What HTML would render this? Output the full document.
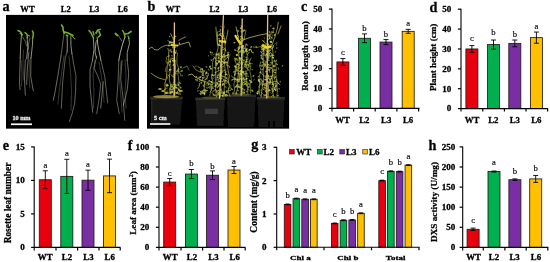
<!DOCTYPE html>
<html><head><meta charset="utf-8"><title>Figure</title>
<style>
html,body{margin:0;padding:0;background:#fff;}
body{width:550px;height:262px;overflow:hidden;font-family:"Liberation Serif",serif;}
svg{display:block;}
svg text{font-family:"Liberation Serif",serif;}
</style></head><body>
<svg width="550" height="262" viewBox="0 0 550 262">
<defs><filter id="bl" x="-5%" y="-5%" width="110%" height="110%"><feGaussianBlur stdDeviation="0.35"/></filter><filter id="soft" x="0" y="0" width="550" height="262" filterUnits="userSpaceOnUse"><feGaussianBlur stdDeviation="0.4"/></filter></defs>
<rect width="550" height="262" fill="#fff"/>
<g filter="url(#soft)">
<rect x="6" y="14.9" width="132.95" height="113.75" fill="#000"/>
<g fill="none" stroke-linecap="round" stroke-linejoin="round" filter="url(#bl)">
<path d="M21.4,35.5 L20.6,46.9 L20.2,58.0" stroke="#dcdcb0" stroke-width="0.8" opacity="0.8280000000000001"/>
<path d="M27.1,37.7 L27.8,46.9 L26.8,58.0" stroke="#dcdcb0" stroke-width="0.8" opacity="0.8280000000000001"/>
<path d="M32.7,38.5 L32.4,45.4 L31.0,58.0" stroke="#dcdcb0" stroke-width="0.8" opacity="0.8280000000000001"/>
<path d="M22.5,37.0 L25.6,41.6 L26.5,46.0" stroke="#dcdcb0" stroke-width="0.6400000000000001" opacity="0.644"/>
<path d="M30.0,38.0 L28.5,44.0 L28.3,50.0" stroke="#dcdcb0" stroke-width="0.6400000000000001" opacity="0.644"/>
<path d="M20.2,58.0 L19.5,81.7 L20.0,89.7" stroke="#c4c0b0" stroke-width="0.7" opacity="0.78"/>
<path d="M26.8,58.0 L25.3,60.3 L24.5,79.0 L25.3,95.0" stroke="#c4c0b0" stroke-width="0.7" opacity="0.78"/>
<path d="M28.8,52.0 L27.2,71.0 L26.7,84.3" stroke="#c4c0b0" stroke-width="0.7" opacity="0.78"/>
<path d="M31.0,58.0 L30.7,76.3 L33.3,91.0" stroke="#c4c0b0" stroke-width="0.7" opacity="0.78"/>
<path d="M64.0,33.3 L62.5,45.0 L61.0,56.0" stroke="#dcdcb0" stroke-width="0.6400000000000001" opacity="0.6900000000000001"/>
<path d="M67.1,34.8 L67.3,45.0 L67.1,52.0" stroke="#dcdcb0" stroke-width="0.8" opacity="0.8280000000000001"/>
<path d="M70.9,35.6 L70.9,45.5 L72.0,54.0" stroke="#dcdcb0" stroke-width="0.8" opacity="0.8280000000000001"/>
<path d="M61.0,56.0 L58.0,75.0 L55.0,92.0 L53.3,100.3" stroke="#c4c0b0" stroke-width="0.7" opacity="0.78"/>
<path d="M67.1,52.0 L65.3,57.7 L62.7,81.7 L61.3,108.3" stroke="#c4c0b0" stroke-width="0.7" opacity="0.7"/>
<path d="M72.0,54.0 L74.0,66.0 L76.0,76.3 L75.5,92.0 L74.7,103.0 L72.0,114.0 L69.3,121.7" stroke="#c4c0b0" stroke-width="0.7" opacity="0.7"/>
<path d="M93.3,38.0 L94.0,49.5 L92.5,60.2" stroke="#dcdcb0" stroke-width="0.8" opacity="0.8280000000000001"/>
<path d="M97.1,37.3 L97.8,44.9 L100.9,60.2" stroke="#dcdcb0" stroke-width="0.8800000000000001" opacity="0.8280000000000001"/>
<path d="M96.0,42.0 L95.0,52.0 L96.5,58.0" stroke="#dcdcb0" stroke-width="0.8" opacity="0.8280000000000001"/>
<path d="M92.5,60.2 L90.0,70.0 L90.0,87.0 L92.7,112.3" stroke="#c4c0b0" stroke-width="0.7" opacity="0.78"/>
<path d="M96.7,56.3 L94.0,68.3 L98.0,76.3 L100.7,84.3 L99.3,97.7 L96.7,113.7" stroke="#c4c0b0" stroke-width="0.7" opacity="0.7"/>
<path d="M100.9,60.2 L104.7,76.3 L106.5,92.0 L107.6,103.0" stroke="#c4c0b0" stroke-width="0.7" opacity="0.7"/>
<path d="M103.3,81.7 L102.0,95.0 L100.7,108.3" stroke="#c4c0b0" stroke-width="0.7" opacity="0.78"/>
<path d="M118.0,35.0 L121.8,41.0" stroke="#dcdcb0" stroke-width="0.6400000000000001" opacity="0.7360000000000001"/>
<path d="M124.9,37.3 L122.6,44.1 L120.3,52.5 L118.8,60.2" stroke="#dcdcb0" stroke-width="0.96" opacity="0.8280000000000001"/>
<path d="M128.7,38.0 L129.5,43.4 L127.2,52.5 L127.2,60.2" stroke="#dcdcb0" stroke-width="0.8" opacity="0.8280000000000001"/>
<path d="M118.8,60.2 L118.0,81.7 L116.7,100.3 L119.3,113.7" stroke="#c4c0b0" stroke-width="0.7" opacity="0.7"/>
<path d="M122.0,60.3 L120.7,79.0 L123.3,100.3 L124.7,120.3" stroke="#c4c0b0" stroke-width="0.7" opacity="0.7"/>
<path d="M127.2,60.2 L128.7,73.7 L127.3,89.7 L123.3,105.7" stroke="#c4c0b0" stroke-width="0.7" opacity="0.78"/>
<path d="M21.0,60.0 L22.0,72.0 L21.5,86.0" stroke="#c4c0b0" stroke-width="0.5" opacity="0.55"/>
<path d="M29.5,60.0 L29.0,75.0 L29.8,88.0" stroke="#c4c0b0" stroke-width="0.5" opacity="0.55"/>
<path d="M23.5,50.0 L23.0,64.0 L23.8,80.0" stroke="#c4c0b0" stroke-width="0.5" opacity="0.5"/>
<path d="M64.0,56.0 L62.0,70.0 L59.5,88.0 L58.0,104.0" stroke="#c4c0b0" stroke-width="0.5" opacity="0.55"/>
<path d="M69.0,56.0 L70.5,72.0 L71.5,90.0 L71.0,110.0" stroke="#c4c0b0" stroke-width="0.5" opacity="0.55"/>
<path d="M95.0,60.0 L93.0,75.0 L94.0,92.0 L93.5,108.0" stroke="#c4c0b0" stroke-width="0.5" opacity="0.55"/>
<path d="M99.0,62.0 L101.0,74.0 L103.0,88.0 L104.0,102.0" stroke="#c4c0b0" stroke-width="0.5" opacity="0.5"/>
<path d="M121.0,62.0 L119.5,80.0 L121.0,98.0 L122.0,112.0" stroke="#c4c0b0" stroke-width="0.5" opacity="0.55"/>
<path d="M125.0,60.0 L126.0,76.0 L125.0,92.0 L126.0,108.0" stroke="#c4c0b0" stroke-width="0.5" opacity="0.55"/>
<path d="M18.0,30.5 L20.0,31.5 L21.5,33.0 L21.8,35.5" stroke="#7cc030" stroke-width="1.6" opacity="0.92"/>
<path d="M20.0,33.5 L22.3,34.5" stroke="#7cc030" stroke-width="1.2000000000000002" opacity="0.92"/>
<path d="M25.0,32.6 L26.8,34.0 L27.4,37.5" stroke="#7cc030" stroke-width="1.4400000000000002" opacity="0.92"/>
<path d="M27.5,35.0 L29.5,36.0" stroke="#7cc030" stroke-width="1.04" opacity="0.92"/>
<path d="M32.4,31.0 L33.4,33.5 L32.8,38.0" stroke="#7cc030" stroke-width="1.52" opacity="0.92"/>
<path d="M61.6,25.0 L63.0,27.5 L63.2,30.5 L64.2,33.2" stroke="#7cc030" stroke-width="1.6" opacity="0.92"/>
<path d="M64.5,32.0 L68.0,33.0 L71.0,34.5 L73.0,35.5" stroke="#7cc030" stroke-width="1.6" opacity="0.92"/>
<path d="M72.5,36.5 L75.0,39.0" stroke="#7cc030" stroke-width="1.04" opacity="0.92"/>
<path d="M66.0,35.0 L68.0,36.0" stroke="#7cc030" stroke-width="1.04" opacity="0.92"/>
<path d="M89.0,30.5 L91.0,33.0 L92.5,36.0 L93.5,38.0" stroke="#7cc030" stroke-width="1.52" opacity="0.92"/>
<path d="M93.0,31.5 L94.0,35.0" stroke="#7cc030" stroke-width="1.2800000000000002" opacity="0.92"/>
<path d="M96.0,33.0 L98.0,30.0 L100.0,29.5" stroke="#7cc030" stroke-width="1.7600000000000002" opacity="0.92"/>
<path d="M99.0,31.5 L100.5,35.0 L98.5,37.0" stroke="#7cc030" stroke-width="1.6" opacity="0.92"/>
<circle cx="97.2" cy="41" r="1" fill="#d09030" stroke="none"/>
<path d="M115.3,33.5 L117.5,35.5" stroke="#7cc030" stroke-width="1.7600000000000002" opacity="0.92"/>
<path d="M122.5,30.5 L124.0,33.0 L125.0,37.0" stroke="#7cc030" stroke-width="1.4400000000000002" opacity="0.92"/>
<path d="M125.0,34.0 L128.0,33.5 L131.0,31.5" stroke="#7cc030" stroke-width="1.7600000000000002" opacity="0.92"/>
<path d="M128.0,36.0 L129.0,38.5" stroke="#7cc030" stroke-width="1.2000000000000002" opacity="0.92"/>
</g>
<text x="27.50" y="12.00" font-size="8.6" font-weight="bold" stroke="#000" stroke-width="0.28" text-anchor="middle" fill="#000" >WT</text>
<text x="65.80" y="12.00" font-size="8.6" font-weight="bold" stroke="#000" stroke-width="0.28" text-anchor="middle" fill="#000" >L2</text>
<text x="94.20" y="12.00" font-size="8.6" font-weight="bold" stroke="#000" stroke-width="0.28" text-anchor="middle" fill="#000" >L3</text>
<text x="122.80" y="12.00" font-size="8.6" font-weight="bold" stroke="#000" stroke-width="0.28" text-anchor="middle" fill="#000" >L6</text>
<rect x="11" y="123.4" width="21" height="1.7" fill="#fff"/>
<text x="21.50" y="120.40" font-size="6.2" font-weight="bold" stroke="#e8e8e8" stroke-width="0.28" text-anchor="middle" fill="#e8e8e8" >10 mm</text>
<rect x="147" y="14.9" width="142.1" height="113.75" fill="#000"/>
<g filter="url(#bl)">
<path d="M150.7,97.6 L182.3,97.6 L180.10000000000002,124.5 L152.89999999999998,124.5 Z" fill="#151515"/>
<rect x="150.2" y="96.8" width="32.60000000000002" height="2.6" fill="#2e2e2c"/>
<path d="M195.7,98.4 L224.8,98.4 L223.3,125.8 L197.2,125.8 Z" fill="#1a1a1a"/>
<rect x="195.2" y="97.60000000000001" width="30.100000000000023" height="2.6" fill="#30302e"/>
<path d="M226.6,95.4 L255.6,95.4 L254.1,127 L228.1,127 Z" fill="#141414"/>
<rect x="226.1" y="94.60000000000001" width="30.0" height="2.6" fill="#2c2c2a"/>
<path d="M257.3,97.8 L284.4,97.8 L282.9,127 L258.8,127 Z" fill="#171717"/>
<rect x="256.8" y="97.0" width="28.099999999999966" height="2.6" fill="#2e2e2c"/>
<rect x="205" y="108.6" width="13" height="5.6" fill="#3a3a3a"/>
<rect x="151.2" y="99" width="1.2" height="24" fill="#2c2c2c"/>
<rect x="268" y="121" width="2" height="6" fill="#050505"/><rect x="273" y="121" width="2" height="6" fill="#050505"/>
<ellipse cx="166" cy="96.6" rx="13" ry="1.6" fill="#b4a63c" opacity="0.8"/>
<ellipse cx="211" cy="97.6" rx="9" ry="1.1" fill="#74702c" opacity="0.6"/>
<ellipse cx="241" cy="94.6" rx="10" ry="1.1" fill="#74702c" opacity="0.6"/>
<ellipse cx="271" cy="97" rx="9" ry="1.1" fill="#74702c" opacity="0.6"/>
</g>
<g fill="none" stroke-linecap="round" stroke-linejoin="round" filter="url(#bl)">
<line x1="174.4" y1="22.8" x2="174.2" y2="96" stroke="#e6c088" stroke-width="1.3"/>
<line x1="223.4" y1="15.6" x2="219.6" y2="98" stroke="#e6c088" stroke-width="1.3"/>
<line x1="242.2" y1="18.8" x2="241.2" y2="95" stroke="#e6c088" stroke-width="1.3"/>
<line x1="267.7" y1="15" x2="266.8" y2="98" stroke="#e6c088" stroke-width="1.3"/>
<path d="M168.9,50.0 L168.6,55.6 L168.9,61.1 L167.2,66.7 L166.8,72.2 L166.4,77.8 L164.9,83.4 L165.1,88.9 L164.8,94.5" stroke="#cfc640" stroke-width="0.75" opacity="0.9"/>
<path d="M173.9,40.0 L174.5,46.8 L174.0,53.6 L174.8,60.4 L175.5,67.2 L175.1,74.1 L175.0,80.9 L174.8,87.7 L174.9,94.5" stroke="#e0dc78" stroke-width="0.75" opacity="0.9"/>
<path d="M177.6,53.0 L176.9,58.2 L176.9,63.4 L178.6,68.6 L177.8,73.8 L178.6,78.9 L179.1,84.1 L179.0,89.3 L180.4,94.5" stroke="#88a040" stroke-width="0.75" opacity="0.9"/>
<path d="M171.2,58.0 L170.1,62.5 L170.1,67.0 L170.1,71.5 L169.3,76.0 L169.4,80.5 L170.6,85.0 L169.9,89.5 L170.1,94.0" stroke="#cfc640" stroke-width="0.75" opacity="0.9"/>
<path d="M149.3,48.5 L152.0,47.0 L154.0,49.5 L158.0,50.0 L161.0,47.5 L165.7,45.3 L170.7,45.3" stroke="#c4c85a" stroke-width="0.8" opacity="0.85"/>
<path d="M177.3,45.3 L182.0,44.0 L188.8,42.0 L190.4,46.9" stroke="#e0dc78" stroke-width="0.8" opacity="0.85"/>
<path d="M170.7,33.7 L172.0,36.5 L174.0,38.7" stroke="#d8d870" stroke-width="0.8" opacity="0.85"/>
<path d="M178.9,40.3 L182.0,38.5 L185.5,37.0" stroke="#d8d870" stroke-width="0.7" opacity="0.85"/>
<path d="M151.0,73.2 L155.0,76.0 L159.2,78.1 L165.0,79.8" stroke="#cfc640" stroke-width="0.8" opacity="0.85"/>
<path d="M183.0,68.0 L187.0,66.0 L189.0,70.0" stroke="#a0b048" stroke-width="0.7" opacity="0.85"/>
<path d="M166.3,66.7 L165.8,68.9 L165.2,71.7" stroke="#a0b048" stroke-width="0.9236548866514023" opacity="0.5501907279694497"/>
<path d="M165.1,88.2 L167.6,88.1 L165.4,89.1 L166.8,88.3" stroke="#88a040" stroke-width="0.5435720991760851" opacity="0.6664049689121718"/>
<path d="M166.6,79.4 L167.7,77.3 L167.5,77.6" stroke="#b8c050" stroke-width="0.8410387209031549" opacity="0.6159349136546158"/>
<path d="M174.2,49.9 L173.8,49.7 L173.2,52.7" stroke="#cfc640" stroke-width="0.5002354542530886" opacity="0.8525168798105804"/>
<path d="M178.3,70.8 L176.8,70.7 L178.7,71.8" stroke="#a0b048" stroke-width="0.5501663760919415" opacity="0.8962555941285604"/>
<path d="M166.3,63.0 L168.1,62.8 L165.8,61.7 L166.6,59.5" stroke="#a0b048" stroke-width="0.6843376024503411" opacity="0.7677522313492212"/>
<path d="M171.7,89.9 L173.7,88.6 L171.9,91.1" stroke="#a0b048" stroke-width="0.9089009747298241" opacity="0.6373244982502374"/>
<path d="M173.2,48.2 L174.2,48.1 L174.1,46.3" stroke="#b8c050" stroke-width="0.5237007852786768" opacity="0.5881665424521548"/>
<path d="M167.9,90.1 L166.6,92.1 L167.1,91.5 L165.4,93.0" stroke="#b8c050" stroke-width="0.5343880620837218" opacity="0.6299387180637939"/>
<path d="M173.5,74.0 L172.4,76.6 L170.9,74.4" stroke="#c4c85a" stroke-width="0.6345969640144205" opacity="0.7059969319937558"/>
<path d="M170.2,42.4 L168.1,40.9 L167.8,40.5" stroke="#a0b048" stroke-width="0.8664525512278884" opacity="0.7326786391776361"/>
<path d="M177.4,70.7 L179.5,72.1 L181.9,70.0 L182.6,70.3" stroke="#c4c85a" stroke-width="0.865248990472641" opacity="0.661616571603805"/>
<path d="M172.4,43.9 L174.5,45.5 L175.5,47.5" stroke="#e0dc78" stroke-width="0.95750128977602" opacity="0.6731419338265389"/>
<path d="M167.0,64.6 L169.3,62.6 L169.3,60.4 L170.2,60.2" stroke="#c4c85a" stroke-width="0.5062235877248157" opacity="0.5752871824657225"/>
<path d="M178.5,73.2 L179.7,73.1 L180.9,73.9 L180.6,76.0" stroke="#c4c85a" stroke-width="0.5418911111306293" opacity="0.8125735620415655"/>
<path d="M167.7,56.1 L166.3,57.6 L166.3,58.6" stroke="#c4c85a" stroke-width="0.9602321367200364" opacity="0.6395405770372335"/>
<path d="M168.1,59.1 L168.2,60.9 L167.4,63.5" stroke="#88a040" stroke-width="0.7491555209894736" opacity="0.634519296992095"/>
<path d="M168.0,74.6 L169.6,76.4 L168.0,75.3 L166.5,77.9" stroke="#d8d870" stroke-width="0.6049462710923564" opacity="0.5970934575331469"/>
<path d="M177.1,83.5 L179.5,82.8 L177.7,82.9" stroke="#88a040" stroke-width="0.6375814114724542" opacity="0.6249281320036475"/>
<path d="M172.2,59.9 L173.3,62.1 L174.0,61.5 L175.7,60.8" stroke="#d8d870" stroke-width="0.8037772738989011" opacity="0.787389149874604"/>
<path d="M169.6,69.7 L170.3,69.6 L168.7,71.4" stroke="#cfc640" stroke-width="0.6332062491678037" opacity="0.8227389983781135"/>
<path d="M173.1,42.4 L171.0,43.0 L171.8,42.7 L169.6,41.6" stroke="#e0dc78" stroke-width="0.9119189026770826" opacity="0.6396147773604105"/>
<ellipse cx="169.5" cy="36.6" rx="0.7" ry="0.6" fill="#d8d870" stroke="none" opacity="0.74" transform="rotate(6 169.5 36.6)"/>
<ellipse cx="174.0" cy="65.0" rx="1.4" ry="0.6" fill="#cfc640" stroke="none" opacity="0.83" transform="rotate(55 174.0 65.0)"/>
<ellipse cx="168.0" cy="49.0" rx="0.9" ry="0.7" fill="#a0b048" stroke="none" opacity="0.77" transform="rotate(56 168.0 49.0)"/>
<ellipse cx="175.5" cy="36.4" rx="1.0" ry="0.8" fill="#b8c050" stroke="none" opacity="0.83" transform="rotate(60 175.5 36.4)"/>
<ellipse cx="168.9" cy="55.9" rx="0.7" ry="0.9" fill="#cfc640" stroke="none" opacity="0.77" transform="rotate(31 168.9 55.9)"/>
<ellipse cx="179.4" cy="43.2" rx="0.8" ry="0.7" fill="#c4c85a" stroke="none" opacity="0.89" transform="rotate(8 179.4 43.2)"/>
<ellipse cx="176.5" cy="92.7" rx="1.2" ry="0.5" fill="#b8c050" stroke="none" opacity="0.58" transform="rotate(-4 176.5 92.7)"/>
<ellipse cx="172.0" cy="55.8" rx="0.9" ry="0.6" fill="#c4c85a" stroke="none" opacity="0.63" transform="rotate(51 172.0 55.8)"/>
<ellipse cx="173.5" cy="39.7" rx="0.9" ry="0.9" fill="#a0b048" stroke="none" opacity="0.71" transform="rotate(6 173.5 39.7)"/>
<ellipse cx="170.3" cy="88.2" rx="1.0" ry="0.8" fill="#88a040" stroke="none" opacity="0.88" transform="rotate(3 170.3 88.2)"/>
<ellipse cx="170.6" cy="69.6" rx="1.0" ry="0.8" fill="#cfc640" stroke="none" opacity="0.81" transform="rotate(21 170.6 69.6)"/>
<ellipse cx="168.9" cy="45.5" rx="1.0" ry="1.0" fill="#d8d870" stroke="none" opacity="0.66" transform="rotate(-12 168.9 45.5)"/>
<ellipse cx="177.5" cy="91.4" rx="0.8" ry="0.6" fill="#b8c050" stroke="none" opacity="0.73" transform="rotate(13 177.5 91.4)"/>
<ellipse cx="169.4" cy="64.9" rx="0.9" ry="0.6" fill="#c4c85a" stroke="none" opacity="0.76" transform="rotate(-57 169.4 64.9)"/>
<ellipse cx="180.9" cy="67.2" rx="1.0" ry="1.0" fill="#c4c85a" stroke="none" opacity="0.72" transform="rotate(28 180.9 67.2)"/>
<ellipse cx="174.6" cy="45.7" rx="1.3" ry="0.7" fill="#cfc640" stroke="none" opacity="0.87" transform="rotate(-26 174.6 45.7)"/>
<ellipse cx="170.4" cy="50.3" rx="1.3" ry="1.0" fill="#88a040" stroke="none" opacity="0.73" transform="rotate(-47 170.4 50.3)"/>
<ellipse cx="173.1" cy="47.1" rx="1.1" ry="1.0" fill="#a0b048" stroke="none" opacity="0.80" transform="rotate(-58 173.1 47.1)"/>
<ellipse cx="173.2" cy="38.1" rx="0.8" ry="0.9" fill="#a0b048" stroke="none" opacity="0.77" transform="rotate(-47 173.2 38.1)"/>
<ellipse cx="173.5" cy="65.0" rx="1.1" ry="0.9" fill="#b8c050" stroke="none" opacity="0.64" transform="rotate(-35 173.5 65.0)"/>
<ellipse cx="173.6" cy="76.7" rx="1.1" ry="0.9" fill="#b8c050" stroke="none" opacity="0.61" transform="rotate(-34 173.6 76.7)"/>
<ellipse cx="172.3" cy="86.1" rx="1.0" ry="0.6" fill="#a0b048" stroke="none" opacity="0.85" transform="rotate(18 172.3 86.1)"/>
<ellipse cx="178.5" cy="70.0" rx="1.1" ry="0.7" fill="#a0b048" stroke="none" opacity="0.66" transform="rotate(-20 178.5 70.0)"/>
<ellipse cx="180.8" cy="87.7" rx="0.8" ry="0.9" fill="#a0b048" stroke="none" opacity="0.86" transform="rotate(-43 180.8 87.7)"/>
<ellipse cx="174.3" cy="87.6" rx="0.9" ry="0.7" fill="#88a040" stroke="none" opacity="0.74" transform="rotate(30 174.3 87.6)"/>
<ellipse cx="173.8" cy="43.3" rx="0.9" ry="0.8" fill="#c4c85a" stroke="none" opacity="0.58" transform="rotate(12 173.8 43.3)"/>
<ellipse cx="182.1" cy="75.6" rx="0.7" ry="0.8" fill="#cfc640" stroke="none" opacity="0.67" transform="rotate(27 182.1 75.6)"/>
<ellipse cx="166.8" cy="84.3" rx="1.2" ry="0.7" fill="#c4c85a" stroke="none" opacity="0.56" transform="rotate(10 166.8 84.3)"/>
<ellipse cx="176.7" cy="71.6" rx="0.8" ry="0.6" fill="#a0b048" stroke="none" opacity="0.84" transform="rotate(-24 176.7 71.6)"/>
<ellipse cx="169.9" cy="89.8" rx="0.7" ry="0.5" fill="#e0dc78" stroke="none" opacity="0.71" transform="rotate(37 169.9 89.8)"/>
<ellipse cx="171.0" cy="41.6" rx="0.9" ry="0.6" fill="#d8d870" stroke="none" opacity="0.55" transform="rotate(29 171.0 41.6)"/>
<ellipse cx="174.5" cy="38.4" rx="0.8" ry="0.7" fill="#d8d870" stroke="none" opacity="0.81" transform="rotate(-9 174.5 38.4)"/>
<ellipse cx="171.3" cy="89.5" rx="1.2" ry="0.7" fill="#c4c85a" stroke="none" opacity="0.83" transform="rotate(30 171.3 89.5)"/>
<ellipse cx="171.7" cy="86.8" rx="1.3" ry="1.0" fill="#b8c050" stroke="none" opacity="0.76" transform="rotate(4 171.7 86.8)"/>
<ellipse cx="169.5" cy="69.9" rx="0.8" ry="0.6" fill="#e0dc78" stroke="none" opacity="0.82" transform="rotate(44 169.5 69.9)"/>
<ellipse cx="179.8" cy="90.2" rx="0.7" ry="0.7" fill="#b8c050" stroke="none" opacity="0.79" transform="rotate(38 179.8 90.2)"/>
<ellipse cx="174.0" cy="61.0" rx="0.7" ry="0.9" fill="#d8d870" stroke="none" opacity="0.71" transform="rotate(-59 174.0 61.0)"/>
<ellipse cx="175.9" cy="87.5" rx="1.4" ry="1.0" fill="#c4c85a" stroke="none" opacity="0.63" transform="rotate(60 175.9 87.5)"/>
<ellipse cx="172.0" cy="91.8" rx="0.9" ry="0.6" fill="#c4c85a" stroke="none" opacity="0.69" transform="rotate(3 172.0 91.8)"/>
<ellipse cx="175.6" cy="73.3" rx="1.2" ry="0.9" fill="#b8c050" stroke="none" opacity="0.56" transform="rotate(18 175.6 73.3)"/>
<ellipse cx="173.2" cy="42.3" rx="1.0" ry="0.9" fill="#e0dc78" stroke="none" opacity="0.68" transform="rotate(-48 173.2 42.3)"/>
<ellipse cx="176.1" cy="51.0" rx="0.8" ry="0.7" fill="#b8c050" stroke="none" opacity="0.73" transform="rotate(6 176.1 51.0)"/>
<ellipse cx="178.4" cy="68.9" rx="1.2" ry="0.5" fill="#b8c050" stroke="none" opacity="0.78" transform="rotate(-55 178.4 68.9)"/>
<ellipse cx="172.9" cy="58.4" rx="1.4" ry="0.7" fill="#a0b048" stroke="none" opacity="0.85" transform="rotate(9 172.9 58.4)"/>
<ellipse cx="181.7" cy="71.4" rx="0.9" ry="0.8" fill="#b8c050" stroke="none" opacity="0.66" transform="rotate(7 181.7 71.4)"/>
<ellipse cx="175.6" cy="52.6" rx="1.1" ry="0.8" fill="#d8d870" stroke="none" opacity="0.78" transform="rotate(35 175.6 52.6)"/>
<ellipse cx="175.3" cy="53.2" rx="0.6" ry="0.6" fill="#cfc640" stroke="none" opacity="0.79" transform="rotate(-54 175.3 53.2)"/>
<ellipse cx="173.3" cy="88.1" rx="1.2" ry="0.5" fill="#e0dc78" stroke="none" opacity="0.88" transform="rotate(-51 173.3 88.1)"/>
<ellipse cx="174.2" cy="82.3" rx="0.8" ry="0.9" fill="#c4c85a" stroke="none" opacity="0.73" transform="rotate(59 174.2 82.3)"/>
<ellipse cx="180.0" cy="83.0" rx="1.3" ry="0.6" fill="#cfc640" stroke="none" opacity="0.64" transform="rotate(30 180.0 83.0)"/>
<ellipse cx="171.0" cy="42.7" rx="0.8" ry="0.5" fill="#b8c050" stroke="none" opacity="0.60" transform="rotate(-14 171.0 42.7)"/>
<ellipse cx="170.3" cy="61.7" rx="1.1" ry="0.7" fill="#d8d870" stroke="none" opacity="0.77" transform="rotate(27 170.3 61.7)"/>
<ellipse cx="173.7" cy="60.3" rx="1.4" ry="1.0" fill="#e0dc78" stroke="none" opacity="0.60" transform="rotate(1 173.7 60.3)"/>
<ellipse cx="170.0" cy="42.6" rx="1.3" ry="0.9" fill="#b8c050" stroke="none" opacity="0.85" transform="rotate(-25 170.0 42.6)"/>
<ellipse cx="171.5" cy="51.7" rx="1.1" ry="0.8" fill="#cfc640" stroke="none" opacity="0.63" transform="rotate(-29 171.5 51.7)"/>
<ellipse cx="164.8" cy="89.5" rx="1.1" ry="0.6" fill="#e0dc78" stroke="none" opacity="0.56" transform="rotate(-53 164.8 89.5)"/>
<ellipse cx="171.9" cy="84.1" rx="0.6" ry="0.6" fill="#d8d870" stroke="none" opacity="0.58" transform="rotate(-49 171.9 84.1)"/>
<ellipse cx="173.5" cy="94.0" rx="0.7" ry="0.6" fill="#d8d870" stroke="none" opacity="0.72" transform="rotate(-15 173.5 94.0)"/>
<ellipse cx="166.7" cy="86.3" rx="1.3" ry="0.5" fill="#c4c85a" stroke="none" opacity="0.71" transform="rotate(45 166.7 86.3)"/>
<ellipse cx="180.5" cy="90.9" rx="1.2" ry="0.6" fill="#88a040" stroke="none" opacity="0.81" transform="rotate(-11 180.5 90.9)"/>
<ellipse cx="165.7" cy="92.9" rx="1.4" ry="0.7" fill="#b8c050" stroke="none" opacity="0.82" transform="rotate(45 165.7 92.9)"/>
<ellipse cx="179.0" cy="94.1" rx="0.9" ry="0.7" fill="#c4c85a" stroke="none" opacity="0.71" transform="rotate(-19 179.0 94.1)"/>
<ellipse cx="178.2" cy="84.9" rx="1.0" ry="0.8" fill="#d8d870" stroke="none" opacity="0.84" transform="rotate(-59 178.2 84.9)"/>
<ellipse cx="175.6" cy="84.8" rx="0.8" ry="0.8" fill="#c4c85a" stroke="none" opacity="0.79" transform="rotate(3 175.6 84.8)"/>
<ellipse cx="170.2" cy="92.0" rx="0.7" ry="0.7" fill="#e0dc78" stroke="none" opacity="0.66" transform="rotate(56 170.2 92.0)"/>
<ellipse cx="167.7" cy="85.3" rx="1.2" ry="0.8" fill="#e0dc78" stroke="none" opacity="0.87" transform="rotate(-4 167.7 85.3)"/>
<ellipse cx="178.7" cy="89.8" rx="0.8" ry="1.0" fill="#e0dc78" stroke="none" opacity="0.86" transform="rotate(-29 178.7 89.8)"/>
<ellipse cx="171.7" cy="84.9" rx="1.3" ry="0.5" fill="#e0dc78" stroke="none" opacity="0.69" transform="rotate(-11 171.7 84.9)"/>
<ellipse cx="171.6" cy="92.8" rx="0.9" ry="0.6" fill="#b8c050" stroke="none" opacity="0.75" transform="rotate(-38 171.6 92.8)"/>
<ellipse cx="166.6" cy="85.0" rx="1.0" ry="0.9" fill="#cfc640" stroke="none" opacity="0.56" transform="rotate(6 166.6 85.0)"/>
<ellipse cx="174.5" cy="84.6" rx="0.6" ry="0.9" fill="#88a040" stroke="none" opacity="0.57" transform="rotate(9 174.5 84.6)"/>
<ellipse cx="176.1" cy="87.4" rx="1.0" ry="0.7" fill="#d8d870" stroke="none" opacity="0.81" transform="rotate(55 176.1 87.4)"/>
<ellipse cx="180.4" cy="87.5" rx="0.7" ry="0.9" fill="#88a040" stroke="none" opacity="0.64" transform="rotate(-32 180.4 87.5)"/>
<ellipse cx="173.4" cy="89.4" rx="1.3" ry="0.7" fill="#88a040" stroke="none" opacity="0.69" transform="rotate(-17 173.4 89.4)"/>
<ellipse cx="170.3" cy="92.9" rx="1.0" ry="0.9" fill="#c4c85a" stroke="none" opacity="0.80" transform="rotate(57 170.3 92.9)"/>
<ellipse cx="174.6" cy="84.5" rx="1.2" ry="1.0" fill="#d8d870" stroke="none" opacity="0.85" transform="rotate(43 174.6 84.5)"/>
<ellipse cx="177.6" cy="88.2" rx="1.0" ry="0.5" fill="#d8d870" stroke="none" opacity="0.80" transform="rotate(42 177.6 88.2)"/>
<ellipse cx="175.3" cy="85.2" rx="1.3" ry="1.0" fill="#a0b048" stroke="none" opacity="0.81" transform="rotate(21 175.3 85.2)"/>
<ellipse cx="174.0" cy="88.1" rx="0.9" ry="0.6" fill="#c4c85a" stroke="none" opacity="0.72" transform="rotate(33 174.0 88.1)"/>
<ellipse cx="175.3" cy="85.3" rx="1.1" ry="0.9" fill="#a0b048" stroke="none" opacity="0.87" transform="rotate(36 175.3 85.3)"/>
<path d="M171.5,45 L177.5,45.6" stroke="#ecd020" stroke-width="1.8"/>
<ellipse cx="163" cy="91" rx="1.8" ry="1" fill="#d8c030" stroke="none" opacity="0.85"/>
<ellipse cx="167" cy="93" rx="1.8" ry="1" fill="#d8c030" stroke="none" opacity="0.85"/>
<ellipse cx="172" cy="92" rx="1.8" ry="1" fill="#d8c030" stroke="none" opacity="0.85"/>
<ellipse cx="177" cy="93" rx="1.8" ry="1" fill="#d8c030" stroke="none" opacity="0.85"/>
<ellipse cx="160" cy="89" rx="1.8" ry="1" fill="#d8c030" stroke="none" opacity="0.85"/>
<ellipse cx="181" cy="91" rx="1.8" ry="1" fill="#d8c030" stroke="none" opacity="0.85"/>
<path d="M217.4,32.0 L217.5,40.1 L218.1,48.2 L215.8,56.4 L215.8,64.5 L215.8,72.6 L215.7,80.8 L215.6,88.9 L216.5,97.0" stroke="#b8c050" stroke-width="0.75" opacity="0.9"/>
<path d="M221.0,45.0 L220.7,51.5 L221.7,58.0 L220.4,64.5 L221.5,71.0 L221.4,77.5 L220.6,84.0 L221.2,90.5 L220.1,97.0" stroke="#cfc640" stroke-width="0.75" opacity="0.9"/>
<path d="M223.4,34.0 L225.1,41.9 L225.2,49.8 L224.0,57.6 L224.6,65.5 L225.7,73.4 L224.7,81.2 L224.2,89.1 L223.9,97.0" stroke="#a0b048" stroke-width="0.75" opacity="0.9"/>
<path d="M213.7,58.0 L212.5,62.8 L212.6,67.5 L212.3,72.2 L211.5,77.0 L212.9,81.8 L211.9,86.5 L210.6,91.2 L209.8,96.0" stroke="#88a040" stroke-width="0.75" opacity="0.9"/>
<path d="M229.0,56.0 L228.0,61.0 L227.6,66.0 L228.2,71.0 L229.4,76.0 L228.4,81.0 L229.4,86.0 L228.0,91.0 L230.0,96.0" stroke="#cfc640" stroke-width="0.75" opacity="0.9"/>
<path d="M215.9,27.1 L216.5,35.0 L217.5,45.1" stroke="#b8c050" stroke-width="0.8" opacity="0.85"/>
<path d="M224.0,26.0 L223.5,30.0 L224.0,33.7" stroke="#a0b048" stroke-width="0.7" opacity="0.85"/>
<path d="M228.0,30.0 L227.0,36.0 L225.0,44.0" stroke="#e0dc78" stroke-width="0.7" opacity="0.85"/>
<path d="M188.5,75.0 L192.0,74.0 L195.0,77.0 L199.0,79.0 L203.0,81.0 L208.0,82.5" stroke="#e0dc78" stroke-width="0.8" opacity="0.85"/>
<path d="M193.0,66.0 L196.0,70.0 L200.0,72.0 L205.0,71.0" stroke="#b8c050" stroke-width="0.7" opacity="0.85"/>
<path d="M220.2,33.9 L220.6,32.6 L219.1,35.2" stroke="#d8d870" stroke-width="0.5745125816095188" opacity="0.5949452696654892"/>
<path d="M221.5,33.9 L223.6,35.3 L221.4,37.0" stroke="#c4c85a" stroke-width="0.7717044757952747" opacity="0.7270890631247904"/>
<path d="M219.2,45.4 L220.7,45.5 L218.3,45.4" stroke="#d8d870" stroke-width="0.7470915621427876" opacity="0.8813079881757735"/>
<path d="M219.3,35.0 L221.9,36.2 L219.6,34.4 L217.8,35.7" stroke="#cfc640" stroke-width="0.8379293250358061" opacity="0.8113227288307094"/>
<path d="M221.4,46.3 L223.3,47.8 L223.2,47.1" stroke="#cfc640" stroke-width="0.5566623600501113" opacity="0.8201372560386726"/>
<path d="M223.0,49.8 L225.1,48.4 L225.7,51.1" stroke="#cfc640" stroke-width="0.8748651381515187" opacity="0.8839312007135628"/>
<path d="M223.1,68.0 L221.4,67.8 L219.4,67.2 L218.2,67.5" stroke="#88a040" stroke-width="0.8201631431715878" opacity="0.7063997793153656"/>
<path d="M214.1,54.2 L212.1,55.3 L210.5,54.1" stroke="#e0dc78" stroke-width="0.5182382123057534" opacity="0.7121077176739189"/>
<path d="M215.5,54.1 L218.0,54.2 L219.4,53.8" stroke="#a0b048" stroke-width="0.9116286465041812" opacity="0.8744138771969668"/>
<path d="M225.3,79.8 L225.2,82.4 L225.9,83.9 L226.4,83.4" stroke="#b8c050" stroke-width="0.8943776964756511" opacity="0.6357679678580187"/>
<path d="M215.4,74.4 L214.6,75.6 L212.5,75.3" stroke="#cfc640" stroke-width="0.7546811041711089" opacity="0.8259940017217178"/>
<path d="M223.5,54.7 L224.9,57.2 L225.2,56.9 L225.2,55.4" stroke="#b8c050" stroke-width="0.8567105911603918" opacity="0.8953723957890847"/>
<path d="M224.5,95.9 L224.9,93.9 L225.7,95.7" stroke="#88a040" stroke-width="0.5681377360396063" opacity="0.7172596890611226"/>
<path d="M216.6,82.1 L215.3,84.5 L215.1,86.1 L213.7,86.8" stroke="#d8d870" stroke-width="0.7730747482207714" opacity="0.5722554757902171"/>
<path d="M224.2,57.8 L224.7,56.2 L226.4,55.5 L228.5,54.5" stroke="#a0b048" stroke-width="0.7867921976860596" opacity="0.84076415231866"/>
<path d="M226.1,77.5 L223.7,76.2 L226.2,78.9 L227.0,78.3" stroke="#88a040" stroke-width="0.835617292103771" opacity="0.8081876774672838"/>
<path d="M222.8,78.3 L221.0,78.2 L218.6,78.8" stroke="#d8d870" stroke-width="0.559138143694093" opacity="0.6920069013594905"/>
<path d="M215.5,73.9 L213.2,75.8 L214.3,77.7 L213.8,78.1" stroke="#b8c050" stroke-width="0.5512598472457744" opacity="0.6709058474302199"/>
<path d="M221.4,92.0 L222.7,92.3 L225.3,94.5 L227.1,94.4" stroke="#b8c050" stroke-width="0.7169782672724465" opacity="0.7480883359172887"/>
<path d="M220.4,65.2 L222.5,64.7 L220.2,66.2 L222.2,67.8" stroke="#d8d870" stroke-width="0.7987608102035154" opacity="0.8131599204715235"/>
<path d="M228.0,90.6 L226.1,90.7 L226.1,90.6" stroke="#b8c050" stroke-width="0.5259827057857578" opacity="0.7932166269934221"/>
<path d="M221.0,91.9 L223.3,94.2 L225.9,95.8 L227.8,95.6" stroke="#a0b048" stroke-width="0.7730782792769471" opacity="0.7473866282540573"/>
<path d="M224.3,60.2 L226.4,58.5 L227.9,57.0" stroke="#c4c85a" stroke-width="0.7687949857707588" opacity="0.8828412201897433"/>
<path d="M224.1,63.6 L223.1,61.7 L225.2,63.8" stroke="#b8c050" stroke-width="0.698627368142005" opacity="0.6747742037646243"/>
<path d="M216.6,60.6 L218.7,60.0 L218.7,62.7 L221.2,62.9" stroke="#e0dc78" stroke-width="0.6032540768485268" opacity="0.6533719234217129"/>
<path d="M213.5,91.3 L215.6,89.1 L216.3,90.6 L216.6,91.1" stroke="#c4c85a" stroke-width="0.6181085489373951" opacity="0.8823110830639251"/>
<path d="M216.1,79.9 L218.5,79.1 L218.1,81.5 L217.3,84.3" stroke="#a0b048" stroke-width="0.8894627259863744" opacity="0.6953097710583087"/>
<path d="M216.7,60.3 L215.5,61.8 L215.5,61.2" stroke="#b8c050" stroke-width="0.6366493119765664" opacity="0.8313001441337398"/>
<path d="M221.9,90.7 L224.4,93.1 L222.7,92.1" stroke="#88a040" stroke-width="0.5662720301744721" opacity="0.7837302590272892"/>
<path d="M218.7,95.2 L218.9,93.3 L219.4,92.5" stroke="#c4c85a" stroke-width="0.6254516296962189" opacity="0.8311273939832818"/>
<path d="M228.3,57.6 L227.0,56.8 L227.2,55.6" stroke="#c4c85a" stroke-width="0.9485157137765465" opacity="0.8957079027910715"/>
<path d="M228.2,78.6 L225.6,81.0 L223.3,79.2 L224.8,81.7" stroke="#c4c85a" stroke-width="0.6604011902893447" opacity="0.719222760752204"/>
<path d="M220.1,73.8 L220.6,75.6 L218.6,75.6" stroke="#d8d870" stroke-width="0.8342195244149613" opacity="0.7417378866714255"/>
<path d="M226.0,86.2 L224.8,86.8 L226.6,87.7" stroke="#e0dc78" stroke-width="0.6306684093003472" opacity="0.620877583391144"/>
<path d="M219.2,52.4 L218.2,53.4 L218.8,55.4" stroke="#cfc640" stroke-width="0.7518568614187582" opacity="0.8030984561296621"/>
<path d="M211.1,86.7 L211.5,87.4 L213.0,86.4" stroke="#c4c85a" stroke-width="0.5731156582161003" opacity="0.6588533274745638"/>
<path d="M226.4,82.0 L227.8,82.4 L228.6,82.8 L228.0,81.9" stroke="#b8c050" stroke-width="0.748435406724613" opacity="0.7806525114240042"/>
<path d="M210.9,86.2 L210.7,87.6 L211.8,90.4 L209.9,92.1" stroke="#e0dc78" stroke-width="0.800374563731947" opacity="0.5970892660364662"/>
<path d="M224.6,70.9 L222.0,70.9 L222.1,69.2" stroke="#c4c85a" stroke-width="0.7780453871863616" opacity="0.715162495512915"/>
<path d="M223.9,94.7 L222.9,93.1 L224.7,93.1" stroke="#d8d870" stroke-width="0.54300834213366" opacity="0.6295330921366786"/>
<path d="M228.7,65.5 L226.3,65.4 L227.1,63.5" stroke="#cfc640" stroke-width="0.6716010256387426" opacity="0.7931391724884446"/>
<path d="M229.0,90.7 L228.8,90.5 L230.6,90.3" stroke="#d8d870" stroke-width="0.8906725907670328" opacity="0.6253872900937616"/>
<path d="M225.1,61.3 L225.0,61.2 L225.5,63.0" stroke="#e0dc78" stroke-width="0.7362835349407422" opacity="0.7215753502969533"/>
<path d="M227.3,81.2 L227.5,81.2 L225.1,80.5" stroke="#b8c050" stroke-width="0.9743624898587137" opacity="0.767339222181573"/>
<path d="M215.9,58.4 L216.3,59.6 L214.8,57.9 L212.5,59.5" stroke="#a0b048" stroke-width="0.8884326009442575" opacity="0.5979815376400249"/>
<path d="M228.3,83.3 L230.9,85.4 L230.6,87.7" stroke="#b8c050" stroke-width="0.6906861935751503" opacity="0.6396962565910055"/>
<path d="M216.0,80.8 L216.0,79.6 L216.1,78.0" stroke="#88a040" stroke-width="0.6042619731734693" opacity="0.6937392122925725"/>
<path d="M213.0,75.0 L212.0,75.2 L211.4,77.5 L213.1,78.1" stroke="#b8c050" stroke-width="0.7246857226092729" opacity="0.5978403816765355"/>
<path d="M214.2,89.8 L213.5,90.8 L211.6,93.0 L212.9,93.3" stroke="#e0dc78" stroke-width="0.5056815699069488" opacity="0.8165727733929489"/>
<path d="M223.0,63.7 L223.3,63.3 L221.4,65.2" stroke="#d8d870" stroke-width="0.6870955572821213" opacity="0.8241579318149521"/>
<path d="M218.8,54.1 L218.8,54.5 L221.0,53.8 L222.1,52.7" stroke="#cfc640" stroke-width="0.9627451762648291" opacity="0.620671193795858"/>
<path d="M222.8,57.7 L222.9,59.3 L225.0,61.3" stroke="#cfc640" stroke-width="0.739153264398268" opacity="0.6399516079238113"/>
<path d="M223.9,75.4 L226.0,73.9 L228.1,76.4" stroke="#cfc640" stroke-width="0.6360014679082456" opacity="0.682011476706302"/>
<path d="M219.4,77.0 L221.4,75.1 L219.0,74.6 L218.3,74.0" stroke="#e0dc78" stroke-width="0.907580858722544" opacity="0.8604702447734882"/>
<path d="M222.2,71.6 L219.7,73.1 L218.3,71.3 L215.9,71.9" stroke="#c4c85a" stroke-width="0.8064068347795679" opacity="0.5722698095937122"/>
<path d="M228.0,88.2 L230.4,88.0 L232.0,89.3 L230.8,89.7" stroke="#b8c050" stroke-width="0.7365206702686038" opacity="0.5573852949026951"/>
<path d="M215.3,58.9 L214.0,56.7 L214.2,56.5" stroke="#e0dc78" stroke-width="0.6196674501412112" opacity="0.7227640818591499"/>
<path d="M211.3,85.2 L210.1,83.5 L207.6,85.5 L206.1,85.4" stroke="#a0b048" stroke-width="0.5782074703421891" opacity="0.6172691746692078"/>
<path d="M222.1,57.3 L223.6,56.7 L223.2,56.4 L224.1,56.8" stroke="#e0dc78" stroke-width="0.8231269018698575" opacity="0.6767774378042312"/>
<path d="M220.2,58.2 L222.2,61.1 L223.9,63.5" stroke="#b8c050" stroke-width="0.6550867338209283" opacity="0.8471343313012512"/>
<path d="M219.6,85.5 L220.2,85.5 L220.1,85.1" stroke="#e0dc78" stroke-width="0.6986928042301902" opacity="0.8088132990804231"/>
<path d="M207.7,76.2 L207.0,77.5 L205.4,79.8 L203.8,80.5" stroke="#e0dc78" stroke-width="0.5646845048944231" opacity="0.8941904503644084"/>
<path d="M206.4,84.4 L207.9,82.8 L207.3,84.1 L205.9,82.9" stroke="#cfc640" stroke-width="0.5068577061289357" opacity="0.7549343250158507"/>
<path d="M201.3,91.2 L200.9,92.3 L200.3,95.0 L202.9,93.0" stroke="#c4c85a" stroke-width="0.85663247479999" opacity="0.5914366957156754"/>
<path d="M203.1,71.0 L202.6,73.5 L204.3,75.8" stroke="#88a040" stroke-width="0.5856147906684536" opacity="0.5735829081998783"/>
<path d="M208.7,86.8 L207.2,88.4 L206.7,86.9 L207.1,88.2" stroke="#cfc640" stroke-width="0.6082962771726708" opacity="0.6489416441325749"/>
<path d="M200.6,69.8 L200.9,72.3 L202.9,72.3" stroke="#d8d870" stroke-width="0.5759300005572108" opacity="0.8595500275994616"/>
<path d="M200.8,80.7 L199.6,79.7 L199.5,79.4 L198.3,77.5" stroke="#d8d870" stroke-width="0.5321884192791935" opacity="0.8624262583718592"/>
<path d="M199.4,83.4 L199.3,86.4 L197.8,88.7 L197.7,88.7" stroke="#c4c85a" stroke-width="0.9035030847779921" opacity="0.6885783124348455"/>
<path d="M206.5,71.6 L205.4,74.3 L207.3,77.2 L207.0,79.4" stroke="#c4c85a" stroke-width="0.8624834680817659" opacity="0.6115469142798006"/>
<path d="M205.4,90.6 L204.2,88.5 L204.5,86.6" stroke="#c4c85a" stroke-width="0.7329201437923033" opacity="0.8602624786909621"/>
<path d="M200.0,90.9 L201.6,92.9 L202.9,92.7 L204.4,94.8" stroke="#c4c85a" stroke-width="0.8838534645831922" opacity="0.8950794564097373"/>
<path d="M204.8,90.3 L203.5,92.9 L201.0,93.7 L199.6,93.5" stroke="#cfc640" stroke-width="0.6846594456813178" opacity="0.7799385130173626"/>
<path d="M206.3,91.8 L205.5,91.1 L207.6,90.5 L205.5,90.1" stroke="#e0dc78" stroke-width="0.8708165108415626" opacity="0.6239686125250098"/>
<path d="M202.4,69.4 L200.7,67.8 L198.8,67.4" stroke="#b8c050" stroke-width="0.7153749764784874" opacity="0.5533044695101985"/>
<path d="M199.4,67.4 L196.9,66.1 L194.7,66.9" stroke="#88a040" stroke-width="0.7893961034249521" opacity="0.662535756457879"/>
<path d="M202.2,91.0 L203.6,93.4 L205.2,91.6 L204.7,94.2" stroke="#b8c050" stroke-width="0.9407323531189706" opacity="0.8221882363782465"/>
<path d="M201.5,91.7 L203.6,89.8 L204.2,89.4 L203.9,90.9" stroke="#c4c85a" stroke-width="0.7119963411422441" opacity="0.8892726849668275"/>
<path d="M208.2,69.2 L207.9,69.4 L209.6,69.8 L209.0,70.4" stroke="#b8c050" stroke-width="0.5212784242452382" opacity="0.8719808862453156"/>
<path d="M204.4,82.3 L204.9,85.0 L203.1,85.2" stroke="#d8d870" stroke-width="0.9964358741640362" opacity="0.808297429740437"/>
<path d="M204.6,70.9 L202.3,73.7 L203.6,76.2 L201.6,75.0" stroke="#a0b048" stroke-width="0.9619594948337501" opacity="0.8264747413113231"/>
<path d="M208.2,87.6 L210.7,85.7 L212.7,87.2 L211.4,89.2" stroke="#cfc640" stroke-width="0.7270328335740674" opacity="0.7377118986474359"/>
<path d="M204.9,77.1 L202.6,77.8 L204.1,78.1" stroke="#cfc640" stroke-width="0.6209025646454096" opacity="0.8299892226146781"/>
<ellipse cx="228.3" cy="54.5" rx="0.7" ry="1.0" fill="#cfc640" stroke="none" opacity="0.68" transform="rotate(-48 228.3 54.5)"/>
<ellipse cx="210.0" cy="66.7" rx="1.3" ry="1.0" fill="#a0b048" stroke="none" opacity="0.84" transform="rotate(-45 210.0 66.7)"/>
<ellipse cx="219.0" cy="70.3" rx="1.1" ry="0.7" fill="#88a040" stroke="none" opacity="0.58" transform="rotate(23 219.0 70.3)"/>
<ellipse cx="219.2" cy="61.1" rx="1.1" ry="0.9" fill="#e0dc78" stroke="none" opacity="0.89" transform="rotate(11 219.2 61.1)"/>
<ellipse cx="219.1" cy="81.4" rx="0.9" ry="0.7" fill="#e0dc78" stroke="none" opacity="0.88" transform="rotate(24 219.1 81.4)"/>
<ellipse cx="220.4" cy="78.5" rx="1.2" ry="0.6" fill="#a0b048" stroke="none" opacity="0.61" transform="rotate(14 220.4 78.5)"/>
<ellipse cx="221.9" cy="72.5" rx="1.4" ry="0.8" fill="#d8d870" stroke="none" opacity="0.66" transform="rotate(-59 221.9 72.5)"/>
<ellipse cx="222.4" cy="95.8" rx="1.2" ry="0.9" fill="#d8d870" stroke="none" opacity="0.85" transform="rotate(38 222.4 95.8)"/>
<ellipse cx="224.5" cy="70.0" rx="0.9" ry="0.9" fill="#88a040" stroke="none" opacity="0.65" transform="rotate(-43 224.5 70.0)"/>
<ellipse cx="226.2" cy="74.3" rx="1.4" ry="0.7" fill="#e0dc78" stroke="none" opacity="0.70" transform="rotate(3 226.2 74.3)"/>
<ellipse cx="217.5" cy="77.5" rx="0.8" ry="0.9" fill="#e0dc78" stroke="none" opacity="0.78" transform="rotate(-32 217.5 77.5)"/>
<ellipse cx="232.8" cy="93.1" rx="0.9" ry="0.9" fill="#b8c050" stroke="none" opacity="0.63" transform="rotate(21 232.8 93.1)"/>
<ellipse cx="216.8" cy="54.8" rx="1.0" ry="1.0" fill="#d8d870" stroke="none" opacity="0.78" transform="rotate(-59 216.8 54.8)"/>
<ellipse cx="222.3" cy="81.6" rx="0.8" ry="0.7" fill="#a0b048" stroke="none" opacity="0.76" transform="rotate(50 222.3 81.6)"/>
<ellipse cx="216.0" cy="63.1" rx="1.3" ry="0.9" fill="#b8c050" stroke="none" opacity="0.59" transform="rotate(24 216.0 63.1)"/>
<ellipse cx="222.0" cy="56.4" rx="1.3" ry="0.5" fill="#d8d870" stroke="none" opacity="0.56" transform="rotate(-57 222.0 56.4)"/>
<ellipse cx="217.3" cy="83.8" rx="1.3" ry="1.0" fill="#c4c85a" stroke="none" opacity="0.78" transform="rotate(-41 217.3 83.8)"/>
<ellipse cx="215.6" cy="72.6" rx="0.9" ry="0.7" fill="#d8d870" stroke="none" opacity="0.72" transform="rotate(23 215.6 72.6)"/>
<ellipse cx="235.4" cy="78.6" rx="1.4" ry="0.7" fill="#cfc640" stroke="none" opacity="0.63" transform="rotate(9 235.4 78.6)"/>
<ellipse cx="217.0" cy="82.8" rx="1.4" ry="0.5" fill="#88a040" stroke="none" opacity="0.78" transform="rotate(41 217.0 82.8)"/>
<ellipse cx="223.5" cy="80.9" rx="0.8" ry="0.7" fill="#a0b048" stroke="none" opacity="0.73" transform="rotate(-48 223.5 80.9)"/>
<ellipse cx="237.9" cy="84.6" rx="0.7" ry="0.6" fill="#e0dc78" stroke="none" opacity="0.79" transform="rotate(40 237.9 84.6)"/>
<ellipse cx="219.8" cy="84.6" rx="1.2" ry="0.9" fill="#c4c85a" stroke="none" opacity="0.70" transform="rotate(-41 219.8 84.6)"/>
<ellipse cx="228.1" cy="52.7" rx="1.3" ry="1.0" fill="#c4c85a" stroke="none" opacity="0.59" transform="rotate(-8 228.1 52.7)"/>
<ellipse cx="217.4" cy="75.6" rx="1.2" ry="0.7" fill="#b8c050" stroke="none" opacity="0.75" transform="rotate(-52 217.4 75.6)"/>
<ellipse cx="219.4" cy="77.0" rx="0.7" ry="0.5" fill="#b8c050" stroke="none" opacity="0.66" transform="rotate(-15 219.4 77.0)"/>
<ellipse cx="220.1" cy="86.2" rx="0.6" ry="0.6" fill="#88a040" stroke="none" opacity="0.61" transform="rotate(-47 220.1 86.2)"/>
<ellipse cx="225.6" cy="72.2" rx="1.3" ry="0.6" fill="#cfc640" stroke="none" opacity="0.73" transform="rotate(-42 225.6 72.2)"/>
<ellipse cx="213.4" cy="94.7" rx="1.1" ry="0.9" fill="#c4c85a" stroke="none" opacity="0.69" transform="rotate(-59 213.4 94.7)"/>
<ellipse cx="219.2" cy="62.1" rx="1.2" ry="0.6" fill="#e0dc78" stroke="none" opacity="0.80" transform="rotate(-40 219.2 62.1)"/>
<ellipse cx="216.2" cy="64.9" rx="1.0" ry="1.0" fill="#b8c050" stroke="none" opacity="0.78" transform="rotate(48 216.2 64.9)"/>
<ellipse cx="215.8" cy="86.1" rx="0.9" ry="0.6" fill="#a0b048" stroke="none" opacity="0.64" transform="rotate(-46 215.8 86.1)"/>
<ellipse cx="209.1" cy="80.9" rx="0.8" ry="1.0" fill="#b8c050" stroke="none" opacity="0.88" transform="rotate(12 209.1 80.9)"/>
<ellipse cx="226.8" cy="95.2" rx="1.3" ry="0.5" fill="#e0dc78" stroke="none" opacity="0.65" transform="rotate(34 226.8 95.2)"/>
<ellipse cx="220.4" cy="78.4" rx="1.2" ry="0.7" fill="#e0dc78" stroke="none" opacity="0.70" transform="rotate(-3 220.4 78.4)"/>
<ellipse cx="221.9" cy="57.1" rx="0.8" ry="0.8" fill="#a0b048" stroke="none" opacity="0.73" transform="rotate(10 221.9 57.1)"/>
<ellipse cx="223.2" cy="66.2" rx="1.2" ry="0.5" fill="#d8d870" stroke="none" opacity="0.72" transform="rotate(-31 223.2 66.2)"/>
<ellipse cx="212.4" cy="74.9" rx="1.0" ry="0.9" fill="#d8d870" stroke="none" opacity="0.69" transform="rotate(-47 212.4 74.9)"/>
<ellipse cx="210.6" cy="52.3" rx="0.9" ry="0.8" fill="#d8d870" stroke="none" opacity="0.84" transform="rotate(-34 210.6 52.3)"/>
<ellipse cx="211.9" cy="78.8" rx="1.1" ry="0.7" fill="#88a040" stroke="none" opacity="0.59" transform="rotate(37 211.9 78.8)"/>
<ellipse cx="222.5" cy="85.2" rx="0.8" ry="0.6" fill="#cfc640" stroke="none" opacity="0.88" transform="rotate(22 222.5 85.2)"/>
<ellipse cx="220.9" cy="89.8" rx="0.9" ry="0.6" fill="#e0dc78" stroke="none" opacity="0.58" transform="rotate(-10 220.9 89.8)"/>
<ellipse cx="222.9" cy="95.3" rx="0.9" ry="0.9" fill="#cfc640" stroke="none" opacity="0.65" transform="rotate(-24 222.9 95.3)"/>
<ellipse cx="216.5" cy="54.5" rx="1.2" ry="0.5" fill="#b8c050" stroke="none" opacity="0.58" transform="rotate(-43 216.5 54.5)"/>
<ellipse cx="219.1" cy="92.8" rx="1.3" ry="0.9" fill="#b8c050" stroke="none" opacity="0.74" transform="rotate(45 219.1 92.8)"/>
<ellipse cx="219.0" cy="84.4" rx="0.9" ry="0.8" fill="#cfc640" stroke="none" opacity="0.58" transform="rotate(40 219.0 84.4)"/>
<ellipse cx="219.0" cy="55.7" rx="1.2" ry="0.8" fill="#cfc640" stroke="none" opacity="0.59" transform="rotate(-20 219.0 55.7)"/>
<ellipse cx="216.8" cy="91.5" rx="1.2" ry="0.9" fill="#cfc640" stroke="none" opacity="0.67" transform="rotate(46 216.8 91.5)"/>
<ellipse cx="222.1" cy="76.1" rx="0.8" ry="1.0" fill="#b8c050" stroke="none" opacity="0.59" transform="rotate(51 222.1 76.1)"/>
<ellipse cx="221.6" cy="61.3" rx="0.9" ry="0.8" fill="#cfc640" stroke="none" opacity="0.88" transform="rotate(-41 221.6 61.3)"/>
<ellipse cx="218.4" cy="90.4" rx="0.9" ry="0.7" fill="#e0dc78" stroke="none" opacity="0.80" transform="rotate(3 218.4 90.4)"/>
<ellipse cx="220.2" cy="73.7" rx="1.2" ry="0.7" fill="#cfc640" stroke="none" opacity="0.72" transform="rotate(10 220.2 73.7)"/>
<ellipse cx="224.0" cy="84.7" rx="0.8" ry="0.7" fill="#a0b048" stroke="none" opacity="0.78" transform="rotate(-12 224.0 84.7)"/>
<ellipse cx="226.6" cy="78.0" rx="1.0" ry="0.7" fill="#b8c050" stroke="none" opacity="0.76" transform="rotate(-1 226.6 78.0)"/>
<ellipse cx="214.9" cy="67.8" rx="1.4" ry="0.7" fill="#e0dc78" stroke="none" opacity="0.72" transform="rotate(20 214.9 67.8)"/>
<ellipse cx="217.1" cy="63.5" rx="1.2" ry="0.8" fill="#d8d870" stroke="none" opacity="0.87" transform="rotate(42 217.1 63.5)"/>
<ellipse cx="212.9" cy="88.3" rx="0.9" ry="0.8" fill="#b8c050" stroke="none" opacity="0.61" transform="rotate(-8 212.9 88.3)"/>
<ellipse cx="227.1" cy="92.0" rx="1.0" ry="0.7" fill="#a0b048" stroke="none" opacity="0.62" transform="rotate(19 227.1 92.0)"/>
<ellipse cx="216.9" cy="56.5" rx="0.6" ry="0.8" fill="#b8c050" stroke="none" opacity="0.61" transform="rotate(2 216.9 56.5)"/>
<ellipse cx="229.3" cy="66.7" rx="0.7" ry="1.0" fill="#cfc640" stroke="none" opacity="0.67" transform="rotate(-22 229.3 66.7)"/>
<ellipse cx="220.7" cy="56.3" rx="0.8" ry="0.8" fill="#b8c050" stroke="none" opacity="0.67" transform="rotate(-40 220.7 56.3)"/>
<ellipse cx="215.8" cy="85.7" rx="1.1" ry="0.9" fill="#d8d870" stroke="none" opacity="0.79" transform="rotate(-14 215.8 85.7)"/>
<ellipse cx="222.0" cy="56.8" rx="1.1" ry="0.9" fill="#d8d870" stroke="none" opacity="0.59" transform="rotate(-15 222.0 56.8)"/>
<ellipse cx="212.2" cy="52.9" rx="1.0" ry="0.6" fill="#d8d870" stroke="none" opacity="0.65" transform="rotate(11 212.2 52.9)"/>
<ellipse cx="216.3" cy="57.8" rx="0.8" ry="0.6" fill="#b8c050" stroke="none" opacity="0.60" transform="rotate(-11 216.3 57.8)"/>
<ellipse cx="220.4" cy="59.0" rx="1.3" ry="0.9" fill="#b8c050" stroke="none" opacity="0.58" transform="rotate(42 220.4 59.0)"/>
<ellipse cx="211.4" cy="84.3" rx="1.3" ry="0.9" fill="#d8d870" stroke="none" opacity="0.66" transform="rotate(-6 211.4 84.3)"/>
<ellipse cx="218.0" cy="93.2" rx="0.9" ry="0.9" fill="#a0b048" stroke="none" opacity="0.72" transform="rotate(27 218.0 93.2)"/>
<ellipse cx="218.4" cy="68.3" rx="1.0" ry="0.8" fill="#d8d870" stroke="none" opacity="0.86" transform="rotate(-51 218.4 68.3)"/>
<ellipse cx="204.6" cy="93.8" rx="0.7" ry="1.0" fill="#e0dc78" stroke="none" opacity="0.81" transform="rotate(-22 204.6 93.8)"/>
<ellipse cx="226.6" cy="91.7" rx="0.7" ry="1.0" fill="#d8d870" stroke="none" opacity="0.67" transform="rotate(-42 226.6 91.7)"/>
<ellipse cx="223.5" cy="54.7" rx="1.1" ry="0.5" fill="#c4c85a" stroke="none" opacity="0.69" transform="rotate(-42 223.5 54.7)"/>
<ellipse cx="214.9" cy="95.2" rx="1.2" ry="0.8" fill="#c4c85a" stroke="none" opacity="0.70" transform="rotate(26 214.9 95.2)"/>
<ellipse cx="211.3" cy="60.1" rx="1.0" ry="0.7" fill="#88a040" stroke="none" opacity="0.87" transform="rotate(52 211.3 60.1)"/>
<ellipse cx="214.0" cy="83.0" rx="0.7" ry="0.7" fill="#b8c050" stroke="none" opacity="0.88" transform="rotate(55 214.0 83.0)"/>
<ellipse cx="223.2" cy="76.7" rx="0.7" ry="0.7" fill="#d8d870" stroke="none" opacity="0.63" transform="rotate(-26 223.2 76.7)"/>
<ellipse cx="235.6" cy="93.3" rx="1.3" ry="0.9" fill="#cfc640" stroke="none" opacity="0.56" transform="rotate(2 235.6 93.3)"/>
<ellipse cx="217.7" cy="87.0" rx="1.4" ry="0.8" fill="#b8c050" stroke="none" opacity="0.66" transform="rotate(-39 217.7 87.0)"/>
<ellipse cx="208.5" cy="55.8" rx="0.6" ry="0.6" fill="#cfc640" stroke="none" opacity="0.66" transform="rotate(-57 208.5 55.8)"/>
<ellipse cx="218.4" cy="70.2" rx="0.7" ry="0.6" fill="#b8c050" stroke="none" opacity="0.73" transform="rotate(14 218.4 70.2)"/>
<ellipse cx="218.8" cy="85.7" rx="0.9" ry="1.0" fill="#a0b048" stroke="none" opacity="0.89" transform="rotate(46 218.8 85.7)"/>
<ellipse cx="218.2" cy="62.2" rx="0.9" ry="0.6" fill="#88a040" stroke="none" opacity="0.56" transform="rotate(38 218.2 62.2)"/>
<ellipse cx="224.5" cy="62.6" rx="1.2" ry="0.8" fill="#d8d870" stroke="none" opacity="0.71" transform="rotate(-30 224.5 62.6)"/>
<ellipse cx="221.8" cy="93.0" rx="0.9" ry="0.6" fill="#a0b048" stroke="none" opacity="0.64" transform="rotate(1 221.8 93.0)"/>
<ellipse cx="222.7" cy="61.7" rx="1.1" ry="0.8" fill="#b8c050" stroke="none" opacity="0.73" transform="rotate(-28 222.7 61.7)"/>
<ellipse cx="218.2" cy="77.2" rx="0.6" ry="0.7" fill="#c4c85a" stroke="none" opacity="0.66" transform="rotate(-18 218.2 77.2)"/>
<ellipse cx="220.5" cy="84.5" rx="0.8" ry="0.5" fill="#e0dc78" stroke="none" opacity="0.82" transform="rotate(-29 220.5 84.5)"/>
<ellipse cx="221.4" cy="71.4" rx="0.6" ry="0.8" fill="#a0b048" stroke="none" opacity="0.68" transform="rotate(-15 221.4 71.4)"/>
<ellipse cx="227.8" cy="55.1" rx="1.4" ry="0.7" fill="#e0dc78" stroke="none" opacity="0.82" transform="rotate(-17 227.8 55.1)"/>
<ellipse cx="225.5" cy="95.7" rx="0.8" ry="1.0" fill="#b8c050" stroke="none" opacity="0.76" transform="rotate(34 225.5 95.7)"/>
<ellipse cx="229.9" cy="55.0" rx="0.6" ry="0.5" fill="#c4c85a" stroke="none" opacity="0.70" transform="rotate(-40 229.9 55.0)"/>
<ellipse cx="218.3" cy="58.3" rx="0.8" ry="0.9" fill="#a0b048" stroke="none" opacity="0.88" transform="rotate(-17 218.3 58.3)"/>
<ellipse cx="225.6" cy="58.1" rx="0.9" ry="0.5" fill="#a0b048" stroke="none" opacity="0.60" transform="rotate(26 225.6 58.1)"/>
<ellipse cx="226.7" cy="62.4" rx="1.3" ry="0.9" fill="#e0dc78" stroke="none" opacity="0.71" transform="rotate(-13 226.7 62.4)"/>
<ellipse cx="223.0" cy="84.0" rx="1.3" ry="1.0" fill="#e0dc78" stroke="none" opacity="0.67" transform="rotate(-54 223.0 84.0)"/>
<ellipse cx="218.8" cy="57.4" rx="0.9" ry="0.8" fill="#d8d870" stroke="none" opacity="0.73" transform="rotate(9 218.8 57.4)"/>
<ellipse cx="209.5" cy="87.9" rx="0.8" ry="0.5" fill="#e0dc78" stroke="none" opacity="0.63" transform="rotate(-51 209.5 87.9)"/>
<ellipse cx="224.1" cy="92.6" rx="1.4" ry="1.0" fill="#e0dc78" stroke="none" opacity="0.73" transform="rotate(-40 224.1 92.6)"/>
<ellipse cx="218.0" cy="94.5" rx="1.0" ry="0.9" fill="#b8c050" stroke="none" opacity="0.71" transform="rotate(17 218.0 94.5)"/>
<ellipse cx="217.6" cy="95.9" rx="1.0" ry="0.5" fill="#a0b048" stroke="none" opacity="0.88" transform="rotate(26 217.6 95.9)"/>
<ellipse cx="221.1" cy="26.6" rx="0.6" ry="0.6" fill="#a0b048" stroke="none" opacity="0.69" transform="rotate(45 221.1 26.6)"/>
<ellipse cx="219.1" cy="31.5" rx="0.6" ry="0.6" fill="#cfc640" stroke="none" opacity="0.89" transform="rotate(18 219.1 31.5)"/>
<ellipse cx="219.5" cy="43.0" rx="0.6" ry="0.7" fill="#c4c85a" stroke="none" opacity="0.67" transform="rotate(48 219.5 43.0)"/>
<ellipse cx="221.3" cy="42.1" rx="0.9" ry="0.7" fill="#b8c050" stroke="none" opacity="0.81" transform="rotate(-39 221.3 42.1)"/>
<ellipse cx="223.0" cy="35.3" rx="0.9" ry="0.8" fill="#88a040" stroke="none" opacity="0.64" transform="rotate(56 223.0 35.3)"/>
<ellipse cx="219.1" cy="38.8" rx="1.1" ry="0.8" fill="#e0dc78" stroke="none" opacity="0.61" transform="rotate(5 219.1 38.8)"/>
<ellipse cx="224.4" cy="40.6" rx="1.3" ry="0.7" fill="#b8c050" stroke="none" opacity="0.75" transform="rotate(-40 224.4 40.6)"/>
<ellipse cx="219.0" cy="44.3" rx="0.9" ry="0.8" fill="#e0dc78" stroke="none" opacity="0.79" transform="rotate(-16 219.0 44.3)"/>
<ellipse cx="223.7" cy="38.5" rx="1.2" ry="0.8" fill="#e0dc78" stroke="none" opacity="0.55" transform="rotate(3 223.7 38.5)"/>
<ellipse cx="223.2" cy="36.4" rx="1.0" ry="0.9" fill="#b8c050" stroke="none" opacity="0.71" transform="rotate(-49 223.2 36.4)"/>
<ellipse cx="220.5" cy="34.3" rx="0.7" ry="0.5" fill="#b8c050" stroke="none" opacity="0.70" transform="rotate(-50 220.5 34.3)"/>
<ellipse cx="220.5" cy="33.3" rx="0.6" ry="0.8" fill="#88a040" stroke="none" opacity="0.83" transform="rotate(-28 220.5 33.3)"/>
<ellipse cx="220.4" cy="31.1" rx="0.9" ry="0.5" fill="#c4c85a" stroke="none" opacity="0.72" transform="rotate(1 220.4 31.1)"/>
<ellipse cx="220.4" cy="29.9" rx="0.9" ry="0.8" fill="#b8c050" stroke="none" opacity="0.67" transform="rotate(-35 220.4 29.9)"/>
<ellipse cx="201.5" cy="82.8" rx="0.8" ry="0.8" fill="#a0b048" stroke="none" opacity="0.79" transform="rotate(42 201.5 82.8)"/>
<ellipse cx="199.4" cy="85.0" rx="0.8" ry="0.6" fill="#a0b048" stroke="none" opacity="0.59" transform="rotate(0 199.4 85.0)"/>
<ellipse cx="203.3" cy="73.9" rx="0.6" ry="0.8" fill="#d8d870" stroke="none" opacity="0.71" transform="rotate(22 203.3 73.9)"/>
<ellipse cx="211.4" cy="81.9" rx="1.3" ry="1.0" fill="#e0dc78" stroke="none" opacity="0.85" transform="rotate(25 211.4 81.9)"/>
<ellipse cx="202.8" cy="70.2" rx="0.9" ry="0.6" fill="#b8c050" stroke="none" opacity="0.79" transform="rotate(37 202.8 70.2)"/>
<ellipse cx="206.4" cy="72.8" rx="1.2" ry="0.8" fill="#e0dc78" stroke="none" opacity="0.80" transform="rotate(-53 206.4 72.8)"/>
<ellipse cx="199.7" cy="77.3" rx="1.2" ry="0.5" fill="#d8d870" stroke="none" opacity="0.88" transform="rotate(21 199.7 77.3)"/>
<ellipse cx="204.9" cy="90.0" rx="0.8" ry="0.9" fill="#c4c85a" stroke="none" opacity="0.56" transform="rotate(-40 204.9 90.0)"/>
<ellipse cx="205.8" cy="79.0" rx="1.1" ry="0.6" fill="#a0b048" stroke="none" opacity="0.73" transform="rotate(-20 205.8 79.0)"/>
<ellipse cx="202.6" cy="78.1" rx="1.2" ry="0.5" fill="#d8d870" stroke="none" opacity="0.79" transform="rotate(60 202.6 78.1)"/>
<ellipse cx="202.3" cy="68.7" rx="0.6" ry="0.8" fill="#b8c050" stroke="none" opacity="0.77" transform="rotate(-1 202.3 68.7)"/>
<ellipse cx="204.0" cy="86.1" rx="0.9" ry="0.6" fill="#b8c050" stroke="none" opacity="0.90" transform="rotate(-52 204.0 86.1)"/>
<ellipse cx="206.5" cy="66.9" rx="1.0" ry="0.9" fill="#a0b048" stroke="none" opacity="0.65" transform="rotate(59 206.5 66.9)"/>
<ellipse cx="199.5" cy="81.1" rx="0.8" ry="0.7" fill="#c4c85a" stroke="none" opacity="0.67" transform="rotate(-15 199.5 81.1)"/>
<ellipse cx="208.1" cy="73.7" rx="1.0" ry="0.6" fill="#a0b048" stroke="none" opacity="0.83" transform="rotate(57 208.1 73.7)"/>
<ellipse cx="197.9" cy="90.9" rx="0.7" ry="0.7" fill="#e0dc78" stroke="none" opacity="0.70" transform="rotate(20 197.9 90.9)"/>
<ellipse cx="197.3" cy="80.4" rx="1.3" ry="0.6" fill="#b8c050" stroke="none" opacity="0.70" transform="rotate(-59 197.3 80.4)"/>
<ellipse cx="196.0" cy="79.7" rx="0.8" ry="0.9" fill="#c4c85a" stroke="none" opacity="0.77" transform="rotate(-37 196.0 79.7)"/>
<ellipse cx="202.1" cy="80.3" rx="1.2" ry="0.7" fill="#cfc640" stroke="none" opacity="0.83" transform="rotate(-55 202.1 80.3)"/>
<ellipse cx="208.7" cy="84.4" rx="1.0" ry="0.7" fill="#c4c85a" stroke="none" opacity="0.88" transform="rotate(-36 208.7 84.4)"/>
<ellipse cx="203.9" cy="90.8" rx="0.7" ry="0.6" fill="#e0dc78" stroke="none" opacity="0.77" transform="rotate(51 203.9 90.8)"/>
<ellipse cx="202.1" cy="69.3" rx="0.9" ry="0.8" fill="#e0dc78" stroke="none" opacity="0.64" transform="rotate(44 202.1 69.3)"/>
<ellipse cx="200.9" cy="82.9" rx="0.6" ry="0.9" fill="#a0b048" stroke="none" opacity="0.64" transform="rotate(13 200.9 82.9)"/>
<ellipse cx="198.1" cy="78.3" rx="0.6" ry="0.5" fill="#88a040" stroke="none" opacity="0.81" transform="rotate(19 198.1 78.3)"/>
<ellipse cx="211.0" cy="68.7" rx="1.0" ry="0.8" fill="#d8d870" stroke="none" opacity="0.87" transform="rotate(21 211.0 68.7)"/>
<ellipse cx="200.6" cy="69.1" rx="0.8" ry="0.6" fill="#cfc640" stroke="none" opacity="0.80" transform="rotate(13 200.6 69.1)"/>
<ellipse cx="196.4" cy="76.7" rx="0.8" ry="0.9" fill="#e0dc78" stroke="none" opacity="0.64" transform="rotate(-34 196.4 76.7)"/>
<ellipse cx="208.0" cy="75.5" rx="0.9" ry="0.7" fill="#d8d870" stroke="none" opacity="0.62" transform="rotate(-58 208.0 75.5)"/>
<ellipse cx="200.7" cy="76.7" rx="1.0" ry="0.7" fill="#b8c050" stroke="none" opacity="0.71" transform="rotate(-12 200.7 76.7)"/>
<ellipse cx="208.9" cy="83.6" rx="1.0" ry="0.9" fill="#88a040" stroke="none" opacity="0.86" transform="rotate(-51 208.9 83.6)"/>
<path d="M219.5,41 L225.5,42" stroke="#ecd020" stroke-width="1.8"/>
<path d="M239.6,44.0 L238.3,50.2 L239.0,56.5 L239.3,62.8 L238.4,69.0 L238.2,75.2 L237.3,81.5 L237.6,87.8 L236.3,94.0" stroke="#cfc640" stroke-width="0.75" opacity="0.9"/>
<path d="M241.3,40.0 L242.3,46.8 L242.7,53.5 L242.5,60.2 L242.3,67.0 L243.2,73.8 L242.5,80.5 L242.7,87.2 L242.3,94.0" stroke="#88a040" stroke-width="0.75" opacity="0.9"/>
<path d="M245.3,44.0 L245.9,50.2 L247.4,56.5 L245.6,62.8 L247.5,69.0 L245.6,75.2 L246.9,81.5 L247.6,87.8 L247.8,94.0" stroke="#88a040" stroke-width="0.75" opacity="0.9"/>
<path d="M234.5,60.0 L236.5,64.1 L235.6,68.2 L234.6,72.4 L234.4,76.5 L234.5,80.6 L233.8,84.8 L234.6,88.9 L233.8,93.0" stroke="#a0b048" stroke-width="0.75" opacity="0.9"/>
<path d="M251.2,58.0 L249.2,62.4 L250.8,66.8 L249.8,71.1 L250.8,75.5 L251.4,79.9 L249.8,84.2 L250.6,88.6 L250.6,93.0" stroke="#88a040" stroke-width="0.75" opacity="0.9"/>
<path d="M236.0,27.0 L237.5,33.0 L238.5,38.0" stroke="#d8d870" stroke-width="0.8" opacity="0.85"/>
<path d="M246.0,30.0 L245.0,35.0 L244.0,40.0" stroke="#a0b048" stroke-width="0.7" opacity="0.85"/>
<path d="M242.1,40.2 L250.0,37.5 L258.5,35.3 L266.7,33.7" stroke="#e0dc78" stroke-width="0.8" opacity="0.85"/>
<path d="M242.0,40.7 L240.9,42.7 L240.4,41.2 L241.0,41.4" stroke="#b8c050" stroke-width="0.7649119554356445" opacity="0.8969059013118962"/>
<path d="M240.7,28.4 L242.1,26.6 L241.0,28.0 L242.0,30.1" stroke="#d8d870" stroke-width="0.690086572264661" opacity="0.6457705188636828"/>
<path d="M242.1,37.3 L241.6,37.2 L243.1,38.2 L244.8,39.2" stroke="#c4c85a" stroke-width="0.6033124967587231" opacity="0.5589008397698481"/>
<path d="M238.6,38.2 L237.3,38.5 L238.3,36.5" stroke="#a0b048" stroke-width="0.9094488370836754" opacity="0.8508357101360462"/>
<path d="M241.0,38.0 L240.2,40.4 L238.7,40.6 L237.7,40.7" stroke="#b8c050" stroke-width="0.9061528287387399" opacity="0.7494893535859719"/>
<path d="M241.0,36.1 L241.5,35.5 L242.3,38.1" stroke="#a0b048" stroke-width="0.8939822742344734" opacity="0.8603522520580045"/>
<path d="M250.0,84.6 L249.9,85.5 L249.1,87.3" stroke="#88a040" stroke-width="0.6592528070221735" opacity="0.8489155901914397"/>
<path d="M239.2,61.8 L241.0,63.5 L242.4,64.9" stroke="#d8d870" stroke-width="0.9705301395921782" opacity="0.5585475559035352"/>
<path d="M241.2,46.2 L241.7,48.5 L239.4,46.8 L237.0,48.2" stroke="#e0dc78" stroke-width="0.5881975127522581" opacity="0.6454320934811602"/>
<path d="M245.3,51.5 L245.1,50.8 L245.5,50.4" stroke="#d8d870" stroke-width="0.6799999997149684" opacity="0.6371076525996441"/>
<path d="M236.3,58.7 L235.3,59.6 L234.1,58.0 L235.9,58.2" stroke="#cfc640" stroke-width="0.7558886676651699" opacity="0.6591604213473148"/>
<path d="M248.2,86.8 L249.2,87.2 L248.7,87.0 L248.7,87.2" stroke="#cfc640" stroke-width="0.764457973000835" opacity="0.7365669343557748"/>
<path d="M248.8,83.4 L246.3,82.7 L243.9,84.7 L244.5,84.0" stroke="#cfc640" stroke-width="0.5956286689918204" opacity="0.8540152946337348"/>
<path d="M242.4,71.3 L243.7,71.5 L243.2,72.1 L245.1,75.1" stroke="#c4c85a" stroke-width="0.958496585014505" opacity="0.8424033807079188"/>
<path d="M243.4,49.4 L243.7,49.8 L242.7,52.1 L242.8,55.1" stroke="#c4c85a" stroke-width="0.5377757606351363" opacity="0.8976486577795999"/>
<path d="M248.1,86.5 L247.9,89.4 L249.9,90.3" stroke="#e0dc78" stroke-width="0.7733171902294949" opacity="0.5695753723668866"/>
<path d="M242.5,52.5 L243.4,51.4 L243.2,52.0" stroke="#e0dc78" stroke-width="0.668382208755977" opacity="0.7522158210917473"/>
<path d="M235.3,74.1 L235.9,73.2 L234.9,71.9" stroke="#e0dc78" stroke-width="0.9456264918996384" opacity="0.7331052790243855"/>
<path d="M238.9,53.0 L240.3,51.1 L237.8,53.1" stroke="#c4c85a" stroke-width="0.5702539451084792" opacity="0.6206179944576228"/>
<path d="M249.4,80.3 L250.9,82.8 L252.2,82.2 L250.2,80.1" stroke="#d8d870" stroke-width="0.8420601637800121" opacity="0.8530675004952524"/>
<path d="M247.6,62.8 L247.0,63.9 L246.6,65.1 L244.2,66.0" stroke="#c4c85a" stroke-width="0.6352260631230158" opacity="0.6199948447649367"/>
<path d="M239.1,47.2 L238.5,49.9 L239.4,48.3" stroke="#e0dc78" stroke-width="0.816797493657774" opacity="0.7779013944398641"/>
<path d="M246.1,62.8 L243.5,62.7 L244.0,61.1 L242.7,59.5" stroke="#b8c050" stroke-width="0.6798816583412685" opacity="0.7631804554159786"/>
<path d="M238.1,60.2 L236.5,58.0 L237.4,59.2" stroke="#88a040" stroke-width="0.8133530811923544" opacity="0.7069546577809864"/>
<path d="M236.1,79.5 L234.2,79.3 L232.8,79.4" stroke="#d8d870" stroke-width="0.6878443611629482" opacity="0.6071218085762772"/>
<path d="M235.7,79.4 L233.8,78.0 L231.4,76.0" stroke="#c4c85a" stroke-width="0.9384739981858907" opacity="0.6833411123659338"/>
<path d="M237.1,78.9 L237.6,81.5 L235.2,79.9 L234.1,78.7" stroke="#e0dc78" stroke-width="0.5560766586548924" opacity="0.6201933519973055"/>
<path d="M236.5,69.6 L236.0,69.4 L237.3,67.7 L234.7,67.1" stroke="#cfc640" stroke-width="0.9938265257144907" opacity="0.559834697601801"/>
<path d="M236.1,60.5 L235.0,59.7 L235.9,58.4 L237.4,60.8" stroke="#e0dc78" stroke-width="0.9622831966980567" opacity="0.5876898018112661"/>
<path d="M240.4,46.0 L239.0,49.0 L236.9,50.6 L237.7,51.7" stroke="#d8d870" stroke-width="0.9325721519176491" opacity="0.6696170562351884"/>
<path d="M249.1,49.5 L251.0,49.2 L251.5,52.0 L253.6,52.8" stroke="#cfc640" stroke-width="0.9449850927195389" opacity="0.8996450478729119"/>
<path d="M239.6,67.7 L238.3,68.1 L236.2,69.9" stroke="#b8c050" stroke-width="0.827750753842844" opacity="0.7020133377616464"/>
<path d="M240.6,57.7 L239.0,57.8 L240.8,60.8 L239.6,60.5" stroke="#cfc640" stroke-width="0.8468821779101894" opacity="0.6164169139399728"/>
<path d="M241.4,56.9 L242.6,55.3 L243.6,56.3 L244.3,56.6" stroke="#88a040" stroke-width="0.753535008570785" opacity="0.5594620747330568"/>
<path d="M238.6,79.1 L237.0,79.3 L236.8,80.6 L235.6,81.3" stroke="#cfc640" stroke-width="0.6207090329853368" opacity="0.8032450702755095"/>
<path d="M245.7,66.7 L247.9,67.9 L250.3,66.3" stroke="#88a040" stroke-width="0.7994935108798953" opacity="0.7898714938190908"/>
<path d="M238.4,64.3 L238.8,65.6 L241.2,63.7" stroke="#88a040" stroke-width="0.5491795835396229" opacity="0.5625163551321475"/>
<path d="M239.1,77.1 L239.3,79.4 L238.7,77.8 L239.4,75.7" stroke="#a0b048" stroke-width="0.6146807599845301" opacity="0.5604285926013767"/>
<path d="M237.2,85.8 L235.3,86.7 L236.9,86.3 L235.0,87.6" stroke="#b8c050" stroke-width="0.8642591959661605" opacity="0.8593995954777864"/>
<path d="M238.9,75.3 L239.8,78.2 L238.7,80.0" stroke="#c4c85a" stroke-width="0.816417803705267" opacity="0.7139445515273475"/>
<path d="M248.2,65.6 L248.7,66.1 L248.7,64.2 L246.8,65.1" stroke="#cfc640" stroke-width="0.8410193476709814" opacity="0.8966865244181393"/>
<path d="M236.0,79.7 L237.6,79.6 L239.8,79.9 L239.3,80.2" stroke="#c4c85a" stroke-width="0.6786751005079859" opacity="0.8998710702449035"/>
<path d="M243.5,78.4 L243.3,79.1 L241.2,78.1" stroke="#d8d870" stroke-width="0.5740645656157248" opacity="0.7774001695460391"/>
<path d="M248.5,62.0 L249.7,59.8 L248.0,58.4" stroke="#e0dc78" stroke-width="0.5811668155194643" opacity="0.5896830883744371"/>
<path d="M244.1,80.0 L242.6,80.1 L243.1,78.1" stroke="#a0b048" stroke-width="0.9677511976980506" opacity="0.6673199772594801"/>
<path d="M236.8,64.8 L239.3,64.3 L238.8,66.9" stroke="#b8c050" stroke-width="0.8817215793076318" opacity="0.8399778460398972"/>
<path d="M242.9,52.7 L245.1,51.6 L245.8,49.8 L248.0,52.5" stroke="#e0dc78" stroke-width="0.8090247816615996" opacity="0.6621262756822262"/>
<path d="M249.2,64.4 L250.9,63.5 L252.7,63.9" stroke="#a0b048" stroke-width="0.7732732849751756" opacity="0.6492310247352915"/>
<path d="M240.2,71.0 L240.7,70.2 L239.4,71.5" stroke="#a0b048" stroke-width="0.9343458551782051" opacity="0.8779319797057838"/>
<path d="M237.4,66.7 L236.0,65.8 L235.5,68.0" stroke="#c4c85a" stroke-width="0.742923324423106" opacity="0.6194570964509821"/>
<path d="M249.2,52.6 L247.3,54.1 L247.8,55.1" stroke="#cfc640" stroke-width="0.8849522874874003" opacity="0.7629317676844695"/>
<path d="M241.3,91.5 L243.5,93.4 L241.5,92.5 L241.3,93.2" stroke="#a0b048" stroke-width="0.6341594114889816" opacity="0.7909271198263709"/>
<path d="M241.1,85.3 L239.8,84.8 L237.7,86.7" stroke="#88a040" stroke-width="0.960645950999697" opacity="0.6559519790639754"/>
<path d="M246.2,75.2 L246.3,77.0 L246.3,75.3" stroke="#a0b048" stroke-width="0.5336877493292166" opacity="0.7948193197376784"/>
<path d="M250.3,83.2 L249.3,83.5 L247.7,84.3 L249.2,84.7" stroke="#c4c85a" stroke-width="0.5059498403962944" opacity="0.6967640636645047"/>
<path d="M244.7,82.8 L243.4,83.0 L243.3,82.5" stroke="#d8d870" stroke-width="0.758109351325772" opacity="0.7034135823976627"/>
<path d="M240.5,91.6 L238.6,93.6 L236.4,94.3" stroke="#88a040" stroke-width="0.5486360732611475" opacity="0.5824058760893107"/>
<path d="M239.8,74.2 L240.3,76.7 L242.6,78.4 L243.4,78.7" stroke="#a0b048" stroke-width="0.8888716113293796" opacity="0.7842787529664748"/>
<path d="M248.6,69.4 L246.5,68.0 L244.1,66.6 L246.5,66.0" stroke="#b8c050" stroke-width="0.7195012947176906" opacity="0.7128703002566463"/>
<path d="M245.0,72.1 L242.9,71.7 L242.5,72.0 L241.9,74.5" stroke="#e0dc78" stroke-width="0.6058283674320533" opacity="0.6718044302875494"/>
<path d="M244.5,81.7 L244.1,82.2 L242.5,82.4" stroke="#c4c85a" stroke-width="0.6286318751404454" opacity="0.7864310634362279"/>
<ellipse cx="237.9" cy="70.8" rx="1.0" ry="0.7" fill="#a0b048" stroke="none" opacity="0.84" transform="rotate(-12 237.9 70.8)"/>
<ellipse cx="239.4" cy="74.7" rx="1.0" ry="0.8" fill="#88a040" stroke="none" opacity="0.61" transform="rotate(36 239.4 74.7)"/>
<ellipse cx="236.0" cy="86.8" rx="1.1" ry="0.7" fill="#88a040" stroke="none" opacity="0.63" transform="rotate(55 236.0 86.8)"/>
<ellipse cx="243.2" cy="48.5" rx="0.6" ry="0.9" fill="#d8d870" stroke="none" opacity="0.58" transform="rotate(-24 243.2 48.5)"/>
<ellipse cx="241.4" cy="75.8" rx="0.9" ry="0.7" fill="#88a040" stroke="none" opacity="0.82" transform="rotate(41 241.4 75.8)"/>
<ellipse cx="235.2" cy="66.3" rx="1.1" ry="0.9" fill="#d8d870" stroke="none" opacity="0.89" transform="rotate(29 235.2 66.3)"/>
<ellipse cx="246.9" cy="51.1" rx="0.9" ry="0.5" fill="#c4c85a" stroke="none" opacity="0.86" transform="rotate(25 246.9 51.1)"/>
<ellipse cx="244.5" cy="90.2" rx="1.3" ry="0.5" fill="#d8d870" stroke="none" opacity="0.63" transform="rotate(-46 244.5 90.2)"/>
<ellipse cx="246.8" cy="59.2" rx="1.3" ry="0.7" fill="#a0b048" stroke="none" opacity="0.61" transform="rotate(-17 246.8 59.2)"/>
<ellipse cx="246.9" cy="44.7" rx="1.2" ry="0.6" fill="#e0dc78" stroke="none" opacity="0.84" transform="rotate(60 246.9 44.7)"/>
<ellipse cx="244.3" cy="48.1" rx="1.2" ry="0.9" fill="#d8d870" stroke="none" opacity="0.57" transform="rotate(2 244.3 48.1)"/>
<ellipse cx="246.6" cy="61.4" rx="1.0" ry="0.9" fill="#d8d870" stroke="none" opacity="0.88" transform="rotate(-52 246.6 61.4)"/>
<ellipse cx="232.1" cy="89.1" rx="1.4" ry="0.6" fill="#d8d870" stroke="none" opacity="0.62" transform="rotate(42 232.1 89.1)"/>
<ellipse cx="236.7" cy="55.0" rx="1.0" ry="1.0" fill="#c4c85a" stroke="none" opacity="0.84" transform="rotate(27 236.7 55.0)"/>
<ellipse cx="246.9" cy="59.6" rx="1.2" ry="0.5" fill="#d8d870" stroke="none" opacity="0.65" transform="rotate(-23 246.9 59.6)"/>
<ellipse cx="245.8" cy="83.5" rx="0.9" ry="0.5" fill="#cfc640" stroke="none" opacity="0.84" transform="rotate(-51 245.8 83.5)"/>
<ellipse cx="238.0" cy="64.2" rx="1.0" ry="0.7" fill="#cfc640" stroke="none" opacity="0.57" transform="rotate(-8 238.0 64.2)"/>
<ellipse cx="246.3" cy="57.3" rx="0.8" ry="1.0" fill="#b8c050" stroke="none" opacity="0.65" transform="rotate(-58 246.3 57.3)"/>
<ellipse cx="248.8" cy="66.3" rx="1.2" ry="0.5" fill="#b8c050" stroke="none" opacity="0.57" transform="rotate(-23 248.8 66.3)"/>
<ellipse cx="244.9" cy="81.2" rx="0.7" ry="0.6" fill="#cfc640" stroke="none" opacity="0.72" transform="rotate(-58 244.9 81.2)"/>
<ellipse cx="243.6" cy="80.0" rx="1.0" ry="0.6" fill="#88a040" stroke="none" opacity="0.59" transform="rotate(40 243.6 80.0)"/>
<ellipse cx="243.1" cy="84.9" rx="1.1" ry="0.5" fill="#88a040" stroke="none" opacity="0.81" transform="rotate(4 243.1 84.9)"/>
<ellipse cx="249.8" cy="63.1" rx="1.2" ry="0.6" fill="#d8d870" stroke="none" opacity="0.71" transform="rotate(8 249.8 63.1)"/>
<ellipse cx="241.4" cy="88.0" rx="1.3" ry="0.8" fill="#cfc640" stroke="none" opacity="0.87" transform="rotate(46 241.4 88.0)"/>
<ellipse cx="237.9" cy="80.8" rx="1.3" ry="0.5" fill="#88a040" stroke="none" opacity="0.60" transform="rotate(-60 237.9 80.8)"/>
<ellipse cx="238.1" cy="90.5" rx="0.7" ry="0.8" fill="#a0b048" stroke="none" opacity="0.86" transform="rotate(37 238.1 90.5)"/>
<ellipse cx="242.6" cy="68.0" rx="1.3" ry="0.5" fill="#a0b048" stroke="none" opacity="0.86" transform="rotate(-12 242.6 68.0)"/>
<ellipse cx="238.5" cy="87.1" rx="1.2" ry="0.6" fill="#c4c85a" stroke="none" opacity="0.69" transform="rotate(-1 238.5 87.1)"/>
<ellipse cx="254.0" cy="79.8" rx="1.0" ry="0.5" fill="#88a040" stroke="none" opacity="0.64" transform="rotate(-39 254.0 79.8)"/>
<ellipse cx="246.5" cy="49.1" rx="1.3" ry="1.0" fill="#c4c85a" stroke="none" opacity="0.83" transform="rotate(-44 246.5 49.1)"/>
<ellipse cx="242.0" cy="57.4" rx="0.9" ry="0.7" fill="#88a040" stroke="none" opacity="0.73" transform="rotate(-43 242.0 57.4)"/>
<ellipse cx="240.9" cy="73.2" rx="1.4" ry="1.0" fill="#cfc640" stroke="none" opacity="0.84" transform="rotate(-31 240.9 73.2)"/>
<ellipse cx="246.6" cy="78.7" rx="1.0" ry="0.9" fill="#e0dc78" stroke="none" opacity="0.90" transform="rotate(-21 246.6 78.7)"/>
<ellipse cx="253.3" cy="76.0" rx="0.7" ry="1.0" fill="#e0dc78" stroke="none" opacity="0.88" transform="rotate(60 253.3 76.0)"/>
<ellipse cx="243.2" cy="46.0" rx="1.2" ry="0.9" fill="#d8d870" stroke="none" opacity="0.74" transform="rotate(-4 243.2 46.0)"/>
<ellipse cx="247.0" cy="91.4" rx="1.4" ry="0.9" fill="#88a040" stroke="none" opacity="0.59" transform="rotate(-16 247.0 91.4)"/>
<ellipse cx="238.9" cy="81.6" rx="1.0" ry="0.8" fill="#d8d870" stroke="none" opacity="0.81" transform="rotate(-43 238.9 81.6)"/>
<ellipse cx="242.8" cy="51.2" rx="1.4" ry="0.6" fill="#a0b048" stroke="none" opacity="0.81" transform="rotate(-46 242.8 51.2)"/>
<ellipse cx="252.3" cy="90.6" rx="1.3" ry="0.9" fill="#b8c050" stroke="none" opacity="0.79" transform="rotate(52 252.3 90.6)"/>
<ellipse cx="238.6" cy="79.9" rx="1.3" ry="0.9" fill="#c4c85a" stroke="none" opacity="0.69" transform="rotate(5 238.6 79.9)"/>
<ellipse cx="232.3" cy="79.8" rx="1.4" ry="0.7" fill="#e0dc78" stroke="none" opacity="0.62" transform="rotate(-20 232.3 79.8)"/>
<ellipse cx="243.8" cy="78.0" rx="0.9" ry="0.8" fill="#c4c85a" stroke="none" opacity="0.82" transform="rotate(-12 243.8 78.0)"/>
<ellipse cx="244.8" cy="79.5" rx="0.8" ry="0.7" fill="#e0dc78" stroke="none" opacity="0.84" transform="rotate(31 244.8 79.5)"/>
<ellipse cx="238.8" cy="49.3" rx="0.6" ry="0.7" fill="#a0b048" stroke="none" opacity="0.84" transform="rotate(-43 238.8 49.3)"/>
<ellipse cx="237.4" cy="54.9" rx="1.3" ry="0.8" fill="#c4c85a" stroke="none" opacity="0.78" transform="rotate(30 237.4 54.9)"/>
<ellipse cx="246.8" cy="73.8" rx="1.2" ry="0.8" fill="#d8d870" stroke="none" opacity="0.58" transform="rotate(21 246.8 73.8)"/>
<ellipse cx="242.3" cy="47.5" rx="1.1" ry="1.0" fill="#e0dc78" stroke="none" opacity="0.71" transform="rotate(2 242.3 47.5)"/>
<ellipse cx="241.5" cy="83.6" rx="1.4" ry="0.9" fill="#88a040" stroke="none" opacity="0.71" transform="rotate(-59 241.5 83.6)"/>
<ellipse cx="240.6" cy="73.5" rx="1.3" ry="0.7" fill="#c4c85a" stroke="none" opacity="0.55" transform="rotate(46 240.6 73.5)"/>
<ellipse cx="241.4" cy="59.9" rx="1.0" ry="0.7" fill="#a0b048" stroke="none" opacity="0.85" transform="rotate(38 241.4 59.9)"/>
<ellipse cx="245.6" cy="73.4" rx="1.1" ry="0.9" fill="#b8c050" stroke="none" opacity="0.66" transform="rotate(-16 245.6 73.4)"/>
<ellipse cx="251.2" cy="47.0" rx="1.1" ry="0.7" fill="#c4c85a" stroke="none" opacity="0.79" transform="rotate(-48 251.2 47.0)"/>
<ellipse cx="242.7" cy="72.2" rx="0.7" ry="0.8" fill="#d8d870" stroke="none" opacity="0.83" transform="rotate(-17 242.7 72.2)"/>
<ellipse cx="235.0" cy="74.5" rx="1.1" ry="0.8" fill="#d8d870" stroke="none" opacity="0.63" transform="rotate(-59 235.0 74.5)"/>
<ellipse cx="236.8" cy="69.7" rx="0.9" ry="0.9" fill="#b8c050" stroke="none" opacity="0.64" transform="rotate(8 236.8 69.7)"/>
<ellipse cx="246.4" cy="61.5" rx="0.9" ry="0.9" fill="#cfc640" stroke="none" opacity="0.82" transform="rotate(42 246.4 61.5)"/>
<ellipse cx="234.7" cy="78.3" rx="1.2" ry="0.5" fill="#a0b048" stroke="none" opacity="0.64" transform="rotate(-48 234.7 78.3)"/>
<ellipse cx="237.1" cy="85.2" rx="1.4" ry="0.9" fill="#a0b048" stroke="none" opacity="0.84" transform="rotate(-47 237.1 85.2)"/>
<ellipse cx="240.9" cy="74.6" rx="1.4" ry="0.8" fill="#d8d870" stroke="none" opacity="0.57" transform="rotate(-4 240.9 74.6)"/>
<ellipse cx="241.5" cy="62.9" rx="0.7" ry="0.8" fill="#d8d870" stroke="none" opacity="0.58" transform="rotate(-39 241.5 62.9)"/>
<ellipse cx="240.0" cy="58.8" rx="1.1" ry="1.0" fill="#a0b048" stroke="none" opacity="0.86" transform="rotate(57 240.0 58.8)"/>
<ellipse cx="240.2" cy="79.1" rx="1.3" ry="0.7" fill="#b8c050" stroke="none" opacity="0.75" transform="rotate(-51 240.2 79.1)"/>
<ellipse cx="235.9" cy="67.6" rx="0.8" ry="0.9" fill="#b8c050" stroke="none" opacity="0.55" transform="rotate(41 235.9 67.6)"/>
<ellipse cx="242.5" cy="50.4" rx="1.3" ry="0.9" fill="#e0dc78" stroke="none" opacity="0.72" transform="rotate(-3 242.5 50.4)"/>
<ellipse cx="239.5" cy="68.3" rx="1.1" ry="0.5" fill="#88a040" stroke="none" opacity="0.79" transform="rotate(-46 239.5 68.3)"/>
<ellipse cx="244.1" cy="60.1" rx="0.7" ry="0.7" fill="#e0dc78" stroke="none" opacity="0.82" transform="rotate(14 244.1 60.1)"/>
<ellipse cx="235.3" cy="50.2" rx="1.3" ry="0.8" fill="#d8d870" stroke="none" opacity="0.67" transform="rotate(38 235.3 50.2)"/>
<ellipse cx="242.2" cy="63.4" rx="0.8" ry="1.0" fill="#c4c85a" stroke="none" opacity="0.89" transform="rotate(36 242.2 63.4)"/>
<ellipse cx="244.1" cy="92.6" rx="1.0" ry="1.0" fill="#e0dc78" stroke="none" opacity="0.76" transform="rotate(19 244.1 92.6)"/>
<ellipse cx="237.9" cy="63.1" rx="1.4" ry="0.6" fill="#c4c85a" stroke="none" opacity="0.63" transform="rotate(-42 237.9 63.1)"/>
<ellipse cx="246.7" cy="85.5" rx="0.9" ry="0.8" fill="#d8d870" stroke="none" opacity="0.66" transform="rotate(-36 246.7 85.5)"/>
<ellipse cx="248.3" cy="70.1" rx="0.7" ry="0.5" fill="#b8c050" stroke="none" opacity="0.77" transform="rotate(5 248.3 70.1)"/>
<ellipse cx="242.2" cy="46.5" rx="1.1" ry="0.9" fill="#e0dc78" stroke="none" opacity="0.62" transform="rotate(-23 242.2 46.5)"/>
<ellipse cx="240.1" cy="51.6" rx="1.4" ry="1.0" fill="#a0b048" stroke="none" opacity="0.74" transform="rotate(-54 240.1 51.6)"/>
<ellipse cx="245.1" cy="84.2" rx="0.7" ry="0.8" fill="#c4c85a" stroke="none" opacity="0.86" transform="rotate(-15 245.1 84.2)"/>
<ellipse cx="240.0" cy="86.5" rx="1.3" ry="0.5" fill="#88a040" stroke="none" opacity="0.63" transform="rotate(49 240.0 86.5)"/>
<ellipse cx="248.0" cy="76.2" rx="0.6" ry="0.7" fill="#cfc640" stroke="none" opacity="0.81" transform="rotate(-4 248.0 76.2)"/>
<ellipse cx="246.7" cy="84.3" rx="0.8" ry="0.7" fill="#cfc640" stroke="none" opacity="0.64" transform="rotate(9 246.7 84.3)"/>
<ellipse cx="235.7" cy="71.1" rx="1.4" ry="0.8" fill="#a0b048" stroke="none" opacity="0.89" transform="rotate(-45 235.7 71.1)"/>
<ellipse cx="241.3" cy="67.6" rx="0.8" ry="0.8" fill="#c4c85a" stroke="none" opacity="0.73" transform="rotate(-16 241.3 67.6)"/>
<ellipse cx="245.2" cy="64.4" rx="1.3" ry="0.9" fill="#e0dc78" stroke="none" opacity="0.69" transform="rotate(-30 245.2 64.4)"/>
<ellipse cx="243.6" cy="52.3" rx="1.2" ry="1.0" fill="#a0b048" stroke="none" opacity="0.90" transform="rotate(-29 243.6 52.3)"/>
<ellipse cx="249.3" cy="50.2" rx="1.1" ry="0.7" fill="#c4c85a" stroke="none" opacity="0.88" transform="rotate(-59 249.3 50.2)"/>
<ellipse cx="246.7" cy="50.7" rx="0.7" ry="0.8" fill="#e0dc78" stroke="none" opacity="0.87" transform="rotate(45 246.7 50.7)"/>
<ellipse cx="238.4" cy="73.3" rx="0.9" ry="0.8" fill="#e0dc78" stroke="none" opacity="0.85" transform="rotate(27 238.4 73.3)"/>
<ellipse cx="240.0" cy="87.5" rx="1.1" ry="0.9" fill="#a0b048" stroke="none" opacity="0.84" transform="rotate(46 240.0 87.5)"/>
<ellipse cx="245.2" cy="79.8" rx="0.8" ry="0.7" fill="#88a040" stroke="none" opacity="0.72" transform="rotate(-43 245.2 79.8)"/>
<ellipse cx="239.7" cy="58.2" rx="0.9" ry="0.9" fill="#d8d870" stroke="none" opacity="0.81" transform="rotate(52 239.7 58.2)"/>
<ellipse cx="246.2" cy="81.7" rx="1.0" ry="1.0" fill="#b8c050" stroke="none" opacity="0.73" transform="rotate(-42 246.2 81.7)"/>
<ellipse cx="240.3" cy="71.2" rx="1.0" ry="0.7" fill="#c4c85a" stroke="none" opacity="0.81" transform="rotate(1 240.3 71.2)"/>
<ellipse cx="242.3" cy="84.1" rx="1.0" ry="0.7" fill="#c4c85a" stroke="none" opacity="0.88" transform="rotate(-45 242.3 84.1)"/>
<ellipse cx="233.6" cy="71.9" rx="0.9" ry="0.6" fill="#88a040" stroke="none" opacity="0.80" transform="rotate(-43 233.6 71.9)"/>
<ellipse cx="246.7" cy="49.9" rx="0.7" ry="0.9" fill="#b8c050" stroke="none" opacity="0.58" transform="rotate(-4 246.7 49.9)"/>
<ellipse cx="245.4" cy="71.1" rx="0.7" ry="0.6" fill="#cfc640" stroke="none" opacity="0.77" transform="rotate(60 245.4 71.1)"/>
<ellipse cx="242.0" cy="75.7" rx="0.8" ry="0.7" fill="#cfc640" stroke="none" opacity="0.81" transform="rotate(-43 242.0 75.7)"/>
<ellipse cx="241.9" cy="73.0" rx="0.8" ry="0.5" fill="#b8c050" stroke="none" opacity="0.67" transform="rotate(48 241.9 73.0)"/>
<ellipse cx="244.0" cy="89.6" rx="0.6" ry="0.5" fill="#cfc640" stroke="none" opacity="0.84" transform="rotate(-9 244.0 89.6)"/>
<ellipse cx="245.7" cy="51.5" rx="0.6" ry="0.8" fill="#a0b048" stroke="none" opacity="0.62" transform="rotate(-35 245.7 51.5)"/>
<ellipse cx="242.9" cy="88.7" rx="1.1" ry="0.6" fill="#cfc640" stroke="none" opacity="0.62" transform="rotate(35 242.9 88.7)"/>
<ellipse cx="238.7" cy="86.6" rx="1.1" ry="0.9" fill="#d8d870" stroke="none" opacity="0.61" transform="rotate(11 238.7 86.6)"/>
<ellipse cx="240.8" cy="36.5" rx="0.8" ry="0.6" fill="#c4c85a" stroke="none" opacity="0.75" transform="rotate(-29 240.8 36.5)"/>
<ellipse cx="243.8" cy="30.4" rx="0.7" ry="0.9" fill="#a0b048" stroke="none" opacity="0.86" transform="rotate(-1 243.8 30.4)"/>
<ellipse cx="238.0" cy="30.9" rx="1.3" ry="0.9" fill="#a0b048" stroke="none" opacity="0.76" transform="rotate(59 238.0 30.9)"/>
<ellipse cx="244.4" cy="30.4" rx="0.8" ry="0.8" fill="#c4c85a" stroke="none" opacity="0.68" transform="rotate(12 244.4 30.4)"/>
<ellipse cx="243.0" cy="31.1" rx="0.7" ry="0.9" fill="#e0dc78" stroke="none" opacity="0.56" transform="rotate(-14 243.0 31.1)"/>
<ellipse cx="240.9" cy="28.1" rx="0.7" ry="0.9" fill="#d8d870" stroke="none" opacity="0.73" transform="rotate(17 240.9 28.1)"/>
<ellipse cx="242.5" cy="40.8" rx="1.2" ry="0.8" fill="#d8d870" stroke="none" opacity="0.59" transform="rotate(-4 242.5 40.8)"/>
<ellipse cx="241.3" cy="31.6" rx="0.7" ry="1.0" fill="#c4c85a" stroke="none" opacity="0.75" transform="rotate(6 241.3 31.6)"/>
<ellipse cx="234.4" cy="42.7" rx="1.1" ry="0.8" fill="#e0dc78" stroke="none" opacity="0.65" transform="rotate(-35 234.4 42.7)"/>
<ellipse cx="241.7" cy="26.1" rx="1.1" ry="0.6" fill="#e0dc78" stroke="none" opacity="0.61" transform="rotate(22 241.7 26.1)"/>
<ellipse cx="242.2" cy="38.3" rx="1.0" ry="0.6" fill="#b8c050" stroke="none" opacity="0.71" transform="rotate(28 242.2 38.3)"/>
<ellipse cx="237.3" cy="35.5" rx="0.8" ry="0.6" fill="#d8d870" stroke="none" opacity="0.77" transform="rotate(10 237.3 35.5)"/>
<path d="M235.5,36 L238.5,41 L240.5,43.5" stroke="#f0d424" stroke-width="2.3"/>
<path d="M264.6,46.0 L263.1,52.4 L263.0,58.8 L263.9,65.1 L263.0,71.5 L263.7,77.9 L262.6,84.2 L261.9,90.6 L261.2,97.0" stroke="#b8c050" stroke-width="0.75" opacity="0.9"/>
<path d="M267.5,42.0 L268.5,48.9 L267.8,55.8 L267.5,62.6 L267.0,69.5 L266.9,76.4 L268.0,83.2 L268.3,90.1 L268.2,97.0" stroke="#cfc640" stroke-width="0.75" opacity="0.9"/>
<path d="M272.2,46.8 L273.0,53.1 L271.9,59.3 L272.9,65.6 L272.7,71.9 L272.1,78.2 L273.5,84.5 L272.3,90.7 L273.9,97.0" stroke="#b8c050" stroke-width="0.75" opacity="0.9"/>
<path d="M260.5,62.0 L259.8,66.2 L261.0,70.5 L259.8,74.8 L258.9,79.0 L259.7,83.2 L259.3,87.5 L258.8,91.8 L260.4,96.0" stroke="#a0b048" stroke-width="0.75" opacity="0.9"/>
<path d="M276.7,60.0 L275.4,64.5 L276.5,69.0 L275.9,73.5 L276.3,78.0 L277.3,82.5 L277.0,87.0 L277.4,91.5 L276.8,96.0" stroke="#88a040" stroke-width="0.75" opacity="0.9"/>
<path d="M278.2,22.2 L277.5,28.0 L276.0,33.0 L274.9,37.0 L273.0,42.0 L271.6,46.8" stroke="#c4c85a" stroke-width="0.8" opacity="0.85"/>
<path d="M281.0,26.0 L279.5,30.0 L278.0,34.0" stroke="#e0dc78" stroke-width="0.7" opacity="0.85"/>
<path d="M262.0,40.0 L265.0,43.0 L268.0,45.0" stroke="#cfc640" stroke-width="0.7" opacity="0.85"/>
<path d="M253.0,47.0 L257.0,47.5 L261.0,46.5 L266.0,47.5" stroke="#88a040" stroke-width="0.8" opacity="0.85"/>
<path d="M273.5,45.4 L273.2,47.8 L271.2,48.4 L271.1,49.0" stroke="#d8d870" stroke-width="0.8961567713487533" opacity="0.7597727350790432"/>
<path d="M274.1,29.8 L273.3,30.2 L273.7,32.8 L272.4,32.4" stroke="#a0b048" stroke-width="0.7468756815769044" opacity="0.7050874459082146"/>
<path d="M269.3,34.8 L269.1,35.9 L269.8,38.5 L268.2,39.5" stroke="#d8d870" stroke-width="0.840745238760136" opacity="0.7975703263077827"/>
<path d="M271.8,31.1 L271.8,34.1 L272.4,35.1 L271.7,38.1" stroke="#a0b048" stroke-width="0.6968003638126327" opacity="0.6979514017861744"/>
<path d="M270.4,36.5 L272.8,38.1 L270.7,41.1" stroke="#cfc640" stroke-width="0.507756279879903" opacity="0.5684574950918163"/>
<path d="M274.6,44.2 L276.8,42.5 L276.6,45.3" stroke="#88a040" stroke-width="0.6634402201053209" opacity="0.7895614040548087"/>
<path d="M269.9,32.3 L270.4,34.8 L271.3,33.9" stroke="#c4c85a" stroke-width="0.6861602006907349" opacity="0.7178779419683561"/>
<path d="M266.8,66.7 L265.2,67.1 L266.8,66.3" stroke="#a0b048" stroke-width="0.7937791461426253" opacity="0.5820432708767128"/>
<path d="M265.6,48.7 L266.6,47.7 L267.5,48.6 L268.8,51.6" stroke="#88a040" stroke-width="0.666689743255175" opacity="0.8987354946791641"/>
<path d="M269.9,55.8 L267.8,57.0 L265.7,54.9 L263.5,55.6" stroke="#cfc640" stroke-width="0.5979775558892853" opacity="0.6421649744975121"/>
<path d="M265.0,75.4 L265.9,78.4 L266.5,78.5 L266.7,80.0" stroke="#a0b048" stroke-width="0.9190956817194786" opacity="0.8249691254285054"/>
<path d="M272.4,46.9 L270.2,45.9 L270.9,45.0" stroke="#cfc640" stroke-width="0.5038559695460458" opacity="0.6798146326217754"/>
<path d="M271.3,82.7 L272.7,83.0 L272.2,81.5 L273.0,84.1" stroke="#b8c050" stroke-width="0.8439050071212405" opacity="0.6609266070571591"/>
<path d="M274.6,87.9 L276.0,85.7 L275.9,86.2" stroke="#d8d870" stroke-width="0.5735380592130681" opacity="0.8062579449571028"/>
<path d="M258.7,90.1 L259.2,90.1 L260.2,90.1 L261.6,90.8" stroke="#d8d870" stroke-width="0.5525004546789272" opacity="0.7222239189716633"/>
<path d="M266.7,83.8 L264.5,83.4 L264.9,85.9 L264.3,88.1" stroke="#b8c050" stroke-width="0.8748760373324311" opacity="0.5977943101345619"/>
<path d="M265.4,94.2 L266.8,94.6 L265.1,95.3" stroke="#c4c85a" stroke-width="0.7342321763467025" opacity="0.7077862831322717"/>
<path d="M273.0,84.9 L272.8,82.8 L273.2,81.6" stroke="#cfc640" stroke-width="0.7609937123392139" opacity="0.6282724624410034"/>
<path d="M268.4,55.4 L268.2,56.5 L268.5,57.7 L268.0,59.8" stroke="#c4c85a" stroke-width="0.7657618685293858" opacity="0.8581342355904182"/>
<path d="M273.2,87.4 L273.6,85.6 L272.5,86.7" stroke="#d8d870" stroke-width="0.5754164440532913" opacity="0.7027638581582523"/>
<path d="M263.7,67.5 L265.8,65.3 L263.9,65.5 L263.9,63.7" stroke="#c4c85a" stroke-width="0.7873190404190202" opacity="0.8647699290109467"/>
<path d="M273.8,84.4 L273.5,84.5 L274.3,83.9 L276.0,83.9" stroke="#d8d870" stroke-width="0.778448018442768" opacity="0.7319101799292262"/>
<path d="M272.9,60.1 L273.1,61.9 L270.9,64.9 L268.7,66.3" stroke="#a0b048" stroke-width="0.8975829818070136" opacity="0.7790940072996788"/>
<path d="M265.1,49.4 L267.2,51.9 L268.5,50.9" stroke="#e0dc78" stroke-width="0.6665606529160979" opacity="0.8087637592198686"/>
<path d="M261.5,79.3 L262.9,82.2 L263.5,83.5 L263.9,83.7" stroke="#b8c050" stroke-width="0.6897571896108771" opacity="0.5740572448739965"/>
<path d="M261.8,89.7 L263.1,87.8 L265.0,87.5 L265.0,90.5" stroke="#cfc640" stroke-width="0.6713182869082801" opacity="0.6302913101162592"/>
<path d="M270.4,84.1 L269.1,84.4 L268.9,84.0 L269.4,82.6" stroke="#c4c85a" stroke-width="0.6265323318198892" opacity="0.5914615171859916"/>
<path d="M267.2,78.0 L268.9,76.5 L268.2,76.0 L269.1,79.0" stroke="#a0b048" stroke-width="0.8720122569991229" opacity="0.7980823694574056"/>
<path d="M271.6,93.6 L269.5,92.0 L268.4,91.7" stroke="#a0b048" stroke-width="0.623045654351755" opacity="0.6560064638155934"/>
<path d="M266.5,54.0 L265.4,55.9 L264.2,54.6" stroke="#c4c85a" stroke-width="0.9616309254413868" opacity="0.6224187184709116"/>
<path d="M274.2,81.3 L276.5,81.2 L276.9,79.4 L276.2,78.9" stroke="#cfc640" stroke-width="0.8110912977140023" opacity="0.5526118154762687"/>
<path d="M273.0,70.4 L272.9,72.6 L273.6,71.2" stroke="#b8c050" stroke-width="0.8332058240448527" opacity="0.6322874925325602"/>
<path d="M269.1,53.8 L267.8,54.3 L269.6,53.8 L268.7,52.0" stroke="#c4c85a" stroke-width="0.8707744392381004" opacity="0.780135604956748"/>
<path d="M270.5,87.2 L272.2,88.7 L274.0,89.7 L274.7,89.5" stroke="#e0dc78" stroke-width="0.6165688230924944" opacity="0.696739218014558"/>
<path d="M261.0,51.7 L261.9,54.3 L261.9,54.9" stroke="#88a040" stroke-width="0.838074656168325" opacity="0.6058744412213087"/>
<path d="M268.1,85.2 L267.5,83.2 L269.1,83.0 L270.8,81.4" stroke="#a0b048" stroke-width="0.7160805818742828" opacity="0.7388717525117164"/>
<path d="M267.2,81.6 L269.8,82.2 L271.0,83.1 L270.9,81.8" stroke="#e0dc78" stroke-width="0.8210053684449556" opacity="0.7051040042156219"/>
<path d="M259.5,72.6 L261.1,72.5 L260.2,71.5" stroke="#d8d870" stroke-width="0.6577332970523591" opacity="0.8130494672928669"/>
<path d="M259.9,65.6 L260.9,65.4 L262.4,64.8" stroke="#cfc640" stroke-width="0.9991964621133644" opacity="0.567157911425787"/>
<path d="M260.8,80.1 L262.4,81.1 L260.3,83.6 L260.0,85.0" stroke="#a0b048" stroke-width="0.9120081644117219" opacity="0.7213171444817885"/>
<path d="M260.4,72.3 L261.6,73.3 L264.1,76.2" stroke="#b8c050" stroke-width="0.8847293354932879" opacity="0.6658131368972016"/>
<path d="M276.7,84.5 L276.1,86.3 L275.8,87.7 L274.1,90.1" stroke="#c4c85a" stroke-width="0.8503970270329252" opacity="0.602486827607376"/>
<path d="M271.3,71.3 L273.2,69.4 L274.9,71.3" stroke="#a0b048" stroke-width="0.6438470241090319" opacity="0.5670278779724961"/>
<path d="M274.6,61.8 L274.6,59.8 L275.2,61.9 L276.0,60.7" stroke="#b8c050" stroke-width="0.9759405073104417" opacity="0.6136861358002195"/>
<path d="M263.7,54.6 L262.4,53.4 L260.7,51.4 L261.5,52.7" stroke="#88a040" stroke-width="0.6258069043247738" opacity="0.8830923269220744"/>
<path d="M261.0,92.4 L261.8,92.6 L263.1,94.3" stroke="#e0dc78" stroke-width="0.6540867721930754" opacity="0.5744124863235617"/>
<path d="M270.7,50.3 L268.7,52.0 L267.0,53.9" stroke="#c4c85a" stroke-width="0.8109221688682626" opacity="0.7728198182815897"/>
<path d="M272.6,95.4 L273.2,95.2 L271.3,96.6" stroke="#cfc640" stroke-width="0.8498027258737009" opacity="0.6402714072064061"/>
<path d="M274.5,87.8 L273.9,88.1 L275.7,90.8" stroke="#e0dc78" stroke-width="0.9892504288139121" opacity="0.8444940307173662"/>
<path d="M271.5,54.0 L270.3,52.2 L272.1,55.1 L274.3,55.8" stroke="#e0dc78" stroke-width="0.5425008594060847" opacity="0.809044109376908"/>
<path d="M274.0,74.3 L274.1,77.1 L273.9,77.3 L274.6,79.2" stroke="#d8d870" stroke-width="0.7938067929380822" opacity="0.8793281815854875"/>
<path d="M267.9,67.9 L269.3,67.3 L269.1,69.9 L270.0,72.6" stroke="#e0dc78" stroke-width="0.7630530102531503" opacity="0.6267787285818448"/>
<path d="M276.3,81.5 L278.8,84.1 L277.7,82.3 L280.0,84.9" stroke="#a0b048" stroke-width="0.833819950945075" opacity="0.8761001206391414"/>
<path d="M259.8,85.3 L262.2,83.2 L262.1,85.5 L262.8,85.2" stroke="#e0dc78" stroke-width="0.7180664578471119" opacity="0.6248726171255444"/>
<path d="M269.8,76.3 L269.8,76.4 L267.6,74.9" stroke="#d8d870" stroke-width="0.7780406145596497" opacity="0.7497176246279033"/>
<path d="M269.4,64.3 L267.8,64.4 L267.1,67.3 L269.4,67.7" stroke="#b8c050" stroke-width="0.6882533349074598" opacity="0.7705508994742001"/>
<path d="M277.5,91.6 L276.7,90.8 L277.4,89.3 L275.7,87.5" stroke="#b8c050" stroke-width="0.8254395684273712" opacity="0.6855257408049634"/>
<path d="M268.6,86.3 L267.9,89.3 L266.6,89.1 L265.7,89.9" stroke="#b8c050" stroke-width="0.7156821302330152" opacity="0.6573884918024989"/>
<path d="M267.1,84.7 L266.1,82.8 L265.0,85.6" stroke="#b8c050" stroke-width="0.9949520429162255" opacity="0.5834079238567763"/>
<path d="M261.9,49.9 L261.7,48.6 L262.4,50.4" stroke="#c4c85a" stroke-width="0.6784599948350154" opacity="0.6521392280014292"/>
<path d="M272.8,71.4 L273.2,70.0 L271.3,68.3 L270.9,67.6" stroke="#cfc640" stroke-width="0.977097696124777" opacity="0.5670889998972893"/>
<path d="M261.7,51.8 L263.9,50.8 L264.4,51.6 L263.9,51.2" stroke="#d8d870" stroke-width="0.5702404735930331" opacity="0.7934899216873751"/>
<path d="M267.7,46.6 L265.6,47.7 L263.3,48.5" stroke="#a0b048" stroke-width="0.7203815027959404" opacity="0.6852144480531118"/>
<path d="M268.2,46.7 L267.2,46.6 L268.3,47.4" stroke="#88a040" stroke-width="0.7470824628447782" opacity="0.8216829285699335"/>
<path d="M259.8,81.1 L258.0,81.0 L260.4,79.0 L261.1,79.0" stroke="#e0dc78" stroke-width="0.8482172355451412" opacity="0.8824446735933505"/>
<ellipse cx="271.0" cy="67.7" rx="0.7" ry="0.8" fill="#e0dc78" stroke="none" opacity="0.77" transform="rotate(13 271.0 67.7)"/>
<ellipse cx="267.3" cy="55.4" rx="1.1" ry="0.6" fill="#c4c85a" stroke="none" opacity="0.74" transform="rotate(-44 267.3 55.4)"/>
<ellipse cx="271.9" cy="89.2" rx="0.8" ry="0.7" fill="#b8c050" stroke="none" opacity="0.75" transform="rotate(4 271.9 89.2)"/>
<ellipse cx="258.4" cy="76.6" rx="1.0" ry="0.6" fill="#a0b048" stroke="none" opacity="0.72" transform="rotate(-28 258.4 76.6)"/>
<ellipse cx="266.5" cy="47.0" rx="1.3" ry="1.0" fill="#a0b048" stroke="none" opacity="0.71" transform="rotate(4 266.5 47.0)"/>
<ellipse cx="266.9" cy="76.4" rx="0.6" ry="0.7" fill="#d8d870" stroke="none" opacity="0.61" transform="rotate(38 266.9 76.4)"/>
<ellipse cx="268.0" cy="47.5" rx="1.0" ry="0.7" fill="#a0b048" stroke="none" opacity="0.81" transform="rotate(-1 268.0 47.5)"/>
<ellipse cx="269.1" cy="90.1" rx="1.0" ry="0.9" fill="#d8d870" stroke="none" opacity="0.87" transform="rotate(-17 269.1 90.1)"/>
<ellipse cx="262.5" cy="84.4" rx="0.9" ry="0.6" fill="#88a040" stroke="none" opacity="0.70" transform="rotate(-23 262.5 84.4)"/>
<ellipse cx="275.1" cy="81.3" rx="0.8" ry="0.7" fill="#cfc640" stroke="none" opacity="0.56" transform="rotate(7 275.1 81.3)"/>
<ellipse cx="266.6" cy="91.3" rx="1.2" ry="0.8" fill="#cfc640" stroke="none" opacity="0.76" transform="rotate(24 266.6 91.3)"/>
<ellipse cx="259.1" cy="92.1" rx="1.0" ry="0.7" fill="#b8c050" stroke="none" opacity="0.66" transform="rotate(-36 259.1 92.1)"/>
<ellipse cx="265.5" cy="47.2" rx="0.9" ry="0.7" fill="#d8d870" stroke="none" opacity="0.62" transform="rotate(19 265.5 47.2)"/>
<ellipse cx="266.1" cy="85.6" rx="1.0" ry="0.9" fill="#d8d870" stroke="none" opacity="0.59" transform="rotate(28 266.1 85.6)"/>
<ellipse cx="265.2" cy="64.3" rx="1.0" ry="0.9" fill="#a0b048" stroke="none" opacity="0.73" transform="rotate(4 265.2 64.3)"/>
<ellipse cx="272.9" cy="57.6" rx="1.2" ry="1.0" fill="#d8d870" stroke="none" opacity="0.83" transform="rotate(25 272.9 57.6)"/>
<ellipse cx="278.4" cy="68.6" rx="1.4" ry="0.5" fill="#88a040" stroke="none" opacity="0.84" transform="rotate(58 278.4 68.6)"/>
<ellipse cx="263.9" cy="84.5" rx="1.1" ry="0.9" fill="#a0b048" stroke="none" opacity="0.80" transform="rotate(15 263.9 84.5)"/>
<ellipse cx="263.5" cy="89.5" rx="0.7" ry="0.5" fill="#a0b048" stroke="none" opacity="0.77" transform="rotate(36 263.5 89.5)"/>
<ellipse cx="262.3" cy="69.3" rx="1.0" ry="0.7" fill="#a0b048" stroke="none" opacity="0.83" transform="rotate(6 262.3 69.3)"/>
<ellipse cx="263.3" cy="48.9" rx="1.4" ry="0.9" fill="#d8d870" stroke="none" opacity="0.66" transform="rotate(-38 263.3 48.9)"/>
<ellipse cx="262.8" cy="58.9" rx="1.1" ry="0.8" fill="#d8d870" stroke="none" opacity="0.60" transform="rotate(-49 262.8 58.9)"/>
<ellipse cx="264.8" cy="64.1" rx="1.3" ry="0.5" fill="#d8d870" stroke="none" opacity="0.68" transform="rotate(8 264.8 64.1)"/>
<ellipse cx="268.9" cy="78.4" rx="0.7" ry="0.9" fill="#b8c050" stroke="none" opacity="0.82" transform="rotate(34 268.9 78.4)"/>
<ellipse cx="275.6" cy="89.6" rx="1.0" ry="0.8" fill="#cfc640" stroke="none" opacity="0.77" transform="rotate(49 275.6 89.6)"/>
<ellipse cx="275.4" cy="51.8" rx="0.8" ry="0.7" fill="#cfc640" stroke="none" opacity="0.63" transform="rotate(-23 275.4 51.8)"/>
<ellipse cx="271.3" cy="78.3" rx="1.1" ry="0.9" fill="#c4c85a" stroke="none" opacity="0.86" transform="rotate(-53 271.3 78.3)"/>
<ellipse cx="269.0" cy="60.4" rx="0.9" ry="0.7" fill="#a0b048" stroke="none" opacity="0.75" transform="rotate(-59 269.0 60.4)"/>
<ellipse cx="275.2" cy="77.6" rx="1.3" ry="0.6" fill="#b8c050" stroke="none" opacity="0.79" transform="rotate(-36 275.2 77.6)"/>
<ellipse cx="265.7" cy="88.0" rx="1.1" ry="0.8" fill="#a0b048" stroke="none" opacity="0.88" transform="rotate(-43 265.7 88.0)"/>
<ellipse cx="271.2" cy="55.9" rx="1.4" ry="0.5" fill="#cfc640" stroke="none" opacity="0.67" transform="rotate(-60 271.2 55.9)"/>
<ellipse cx="282.5" cy="65.8" rx="1.1" ry="0.6" fill="#a0b048" stroke="none" opacity="0.73" transform="rotate(-53 282.5 65.8)"/>
<ellipse cx="264.1" cy="49.7" rx="1.4" ry="0.7" fill="#c4c85a" stroke="none" opacity="0.74" transform="rotate(-49 264.1 49.7)"/>
<ellipse cx="256.4" cy="46.9" rx="1.3" ry="0.8" fill="#88a040" stroke="none" opacity="0.78" transform="rotate(58 256.4 46.9)"/>
<ellipse cx="268.3" cy="64.8" rx="0.8" ry="0.9" fill="#c4c85a" stroke="none" opacity="0.62" transform="rotate(-36 268.3 64.8)"/>
<ellipse cx="262.5" cy="62.2" rx="1.0" ry="0.8" fill="#b8c050" stroke="none" opacity="0.83" transform="rotate(0 262.5 62.2)"/>
<ellipse cx="273.2" cy="55.2" rx="1.0" ry="0.6" fill="#e0dc78" stroke="none" opacity="0.71" transform="rotate(-28 273.2 55.2)"/>
<ellipse cx="262.0" cy="49.6" rx="0.6" ry="0.5" fill="#d8d870" stroke="none" opacity="0.75" transform="rotate(-55 262.0 49.6)"/>
<ellipse cx="272.0" cy="55.3" rx="1.2" ry="0.6" fill="#c4c85a" stroke="none" opacity="0.60" transform="rotate(-36 272.0 55.3)"/>
<ellipse cx="263.4" cy="44.4" rx="1.1" ry="0.7" fill="#a0b048" stroke="none" opacity="0.84" transform="rotate(50 263.4 44.4)"/>
<ellipse cx="276.8" cy="48.0" rx="0.7" ry="0.7" fill="#d8d870" stroke="none" opacity="0.67" transform="rotate(-44 276.8 48.0)"/>
<ellipse cx="271.2" cy="44.7" rx="1.1" ry="0.7" fill="#c4c85a" stroke="none" opacity="0.61" transform="rotate(48 271.2 44.7)"/>
<ellipse cx="266.7" cy="61.5" rx="1.2" ry="0.5" fill="#a0b048" stroke="none" opacity="0.80" transform="rotate(34 266.7 61.5)"/>
<ellipse cx="272.6" cy="84.0" rx="0.7" ry="1.0" fill="#b8c050" stroke="none" opacity="0.77" transform="rotate(-31 272.6 84.0)"/>
<ellipse cx="266.0" cy="71.5" rx="0.8" ry="0.6" fill="#e0dc78" stroke="none" opacity="0.84" transform="rotate(-30 266.0 71.5)"/>
<ellipse cx="269.1" cy="46.0" rx="0.6" ry="0.5" fill="#a0b048" stroke="none" opacity="0.78" transform="rotate(41 269.1 46.0)"/>
<ellipse cx="265.6" cy="79.6" rx="1.4" ry="0.8" fill="#d8d870" stroke="none" opacity="0.82" transform="rotate(9 265.6 79.6)"/>
<ellipse cx="275.0" cy="69.9" rx="0.7" ry="1.0" fill="#e0dc78" stroke="none" opacity="0.84" transform="rotate(-10 275.0 69.9)"/>
<ellipse cx="268.1" cy="75.9" rx="1.2" ry="0.9" fill="#cfc640" stroke="none" opacity="0.69" transform="rotate(-60 268.1 75.9)"/>
<ellipse cx="280.2" cy="81.7" rx="0.9" ry="0.9" fill="#a0b048" stroke="none" opacity="0.57" transform="rotate(-27 280.2 81.7)"/>
<ellipse cx="275.9" cy="83.8" rx="0.9" ry="1.0" fill="#b8c050" stroke="none" opacity="0.59" transform="rotate(-12 275.9 83.8)"/>
<ellipse cx="259.2" cy="86.9" rx="0.9" ry="0.9" fill="#88a040" stroke="none" opacity="0.90" transform="rotate(-28 259.2 86.9)"/>
<ellipse cx="258.6" cy="79.9" rx="0.8" ry="1.0" fill="#d8d870" stroke="none" opacity="0.84" transform="rotate(53 258.6 79.9)"/>
<ellipse cx="266.5" cy="54.2" rx="1.0" ry="0.8" fill="#d8d870" stroke="none" opacity="0.72" transform="rotate(-3 266.5 54.2)"/>
<ellipse cx="263.1" cy="81.5" rx="0.9" ry="0.9" fill="#cfc640" stroke="none" opacity="0.63" transform="rotate(46 263.1 81.5)"/>
<ellipse cx="266.4" cy="47.5" rx="1.1" ry="0.9" fill="#a0b048" stroke="none" opacity="0.60" transform="rotate(-49 266.4 47.5)"/>
<ellipse cx="269.8" cy="90.5" rx="0.9" ry="0.7" fill="#cfc640" stroke="none" opacity="0.83" transform="rotate(-45 269.8 90.5)"/>
<ellipse cx="259.6" cy="81.6" rx="1.2" ry="0.7" fill="#d8d870" stroke="none" opacity="0.77" transform="rotate(53 259.6 81.6)"/>
<ellipse cx="269.0" cy="69.9" rx="1.1" ry="0.8" fill="#b8c050" stroke="none" opacity="0.90" transform="rotate(56 269.0 69.9)"/>
<ellipse cx="269.1" cy="55.1" rx="1.4" ry="0.7" fill="#88a040" stroke="none" opacity="0.81" transform="rotate(-49 269.1 55.1)"/>
<ellipse cx="276.4" cy="81.6" rx="1.3" ry="0.6" fill="#c4c85a" stroke="none" opacity="0.64" transform="rotate(-50 276.4 81.6)"/>
<ellipse cx="270.5" cy="46.4" rx="0.8" ry="0.7" fill="#c4c85a" stroke="none" opacity="0.77" transform="rotate(-5 270.5 46.4)"/>
<ellipse cx="265.8" cy="91.5" rx="0.9" ry="0.9" fill="#a0b048" stroke="none" opacity="0.73" transform="rotate(-8 265.8 91.5)"/>
<ellipse cx="268.6" cy="57.7" rx="1.1" ry="0.9" fill="#88a040" stroke="none" opacity="0.83" transform="rotate(-20 268.6 57.7)"/>
<ellipse cx="275.7" cy="86.0" rx="1.0" ry="0.9" fill="#d8d870" stroke="none" opacity="0.74" transform="rotate(31 275.7 86.0)"/>
<ellipse cx="272.7" cy="91.4" rx="1.1" ry="0.6" fill="#e0dc78" stroke="none" opacity="0.77" transform="rotate(-47 272.7 91.4)"/>
<ellipse cx="270.2" cy="56.0" rx="1.2" ry="0.8" fill="#88a040" stroke="none" opacity="0.74" transform="rotate(50 270.2 56.0)"/>
<ellipse cx="272.9" cy="91.2" rx="1.3" ry="0.8" fill="#a0b048" stroke="none" opacity="0.89" transform="rotate(-48 272.9 91.2)"/>
<ellipse cx="262.1" cy="47.9" rx="1.2" ry="0.8" fill="#cfc640" stroke="none" opacity="0.81" transform="rotate(29 262.1 47.9)"/>
<ellipse cx="261.5" cy="58.0" rx="0.9" ry="1.0" fill="#b8c050" stroke="none" opacity="0.77" transform="rotate(20 261.5 58.0)"/>
<ellipse cx="279.1" cy="88.7" rx="0.7" ry="0.8" fill="#e0dc78" stroke="none" opacity="0.68" transform="rotate(-27 279.1 88.7)"/>
<ellipse cx="258.5" cy="91.4" rx="0.6" ry="0.6" fill="#c4c85a" stroke="none" opacity="0.61" transform="rotate(-40 258.5 91.4)"/>
<ellipse cx="257.7" cy="91.5" rx="0.7" ry="0.7" fill="#cfc640" stroke="none" opacity="0.86" transform="rotate(-30 257.7 91.5)"/>
<ellipse cx="270.0" cy="82.0" rx="1.1" ry="0.8" fill="#c4c85a" stroke="none" opacity="0.80" transform="rotate(-56 270.0 82.0)"/>
<ellipse cx="264.6" cy="95.2" rx="1.4" ry="0.8" fill="#e0dc78" stroke="none" opacity="0.59" transform="rotate(8 264.6 95.2)"/>
<ellipse cx="271.0" cy="76.4" rx="0.9" ry="0.6" fill="#d8d870" stroke="none" opacity="0.87" transform="rotate(49 271.0 76.4)"/>
<ellipse cx="270.3" cy="80.1" rx="1.0" ry="1.0" fill="#cfc640" stroke="none" opacity="0.76" transform="rotate(-35 270.3 80.1)"/>
<ellipse cx="269.4" cy="82.6" rx="0.8" ry="0.8" fill="#c4c85a" stroke="none" opacity="0.83" transform="rotate(43 269.4 82.6)"/>
<ellipse cx="269.5" cy="45.7" rx="0.9" ry="0.7" fill="#a0b048" stroke="none" opacity="0.74" transform="rotate(-57 269.5 45.7)"/>
<ellipse cx="269.4" cy="50.3" rx="1.4" ry="1.0" fill="#cfc640" stroke="none" opacity="0.60" transform="rotate(-35 269.4 50.3)"/>
<ellipse cx="268.2" cy="44.2" rx="1.0" ry="0.7" fill="#cfc640" stroke="none" opacity="0.87" transform="rotate(48 268.2 44.2)"/>
<ellipse cx="277.9" cy="95.5" rx="0.7" ry="0.8" fill="#d8d870" stroke="none" opacity="0.86" transform="rotate(32 277.9 95.5)"/>
<ellipse cx="270.0" cy="83.6" rx="0.9" ry="0.8" fill="#88a040" stroke="none" opacity="0.75" transform="rotate(-57 270.0 83.6)"/>
<ellipse cx="261.4" cy="55.7" rx="1.1" ry="0.9" fill="#d8d870" stroke="none" opacity="0.72" transform="rotate(59 261.4 55.7)"/>
<ellipse cx="274.1" cy="65.8" rx="1.4" ry="0.9" fill="#88a040" stroke="none" opacity="0.88" transform="rotate(-5 274.1 65.8)"/>
<ellipse cx="263.5" cy="48.8" rx="0.7" ry="0.6" fill="#e0dc78" stroke="none" opacity="0.66" transform="rotate(-33 263.5 48.8)"/>
<ellipse cx="275.3" cy="76.7" rx="0.6" ry="0.8" fill="#cfc640" stroke="none" opacity="0.65" transform="rotate(-9 275.3 76.7)"/>
<ellipse cx="275.1" cy="72.6" rx="1.2" ry="0.7" fill="#c4c85a" stroke="none" opacity="0.86" transform="rotate(7 275.1 72.6)"/>
<ellipse cx="270.8" cy="68.8" rx="1.2" ry="0.5" fill="#cfc640" stroke="none" opacity="0.67" transform="rotate(-57 270.8 68.8)"/>
<ellipse cx="257.5" cy="93.0" rx="1.2" ry="0.6" fill="#a0b048" stroke="none" opacity="0.85" transform="rotate(36 257.5 93.0)"/>
<ellipse cx="265.6" cy="62.3" rx="0.9" ry="1.0" fill="#88a040" stroke="none" opacity="0.87" transform="rotate(-33 265.6 62.3)"/>
<ellipse cx="252.3" cy="69.7" rx="1.1" ry="0.5" fill="#88a040" stroke="none" opacity="0.80" transform="rotate(10 252.3 69.7)"/>
<ellipse cx="273.8" cy="66.3" rx="1.2" ry="1.0" fill="#c4c85a" stroke="none" opacity="0.66" transform="rotate(56 273.8 66.3)"/>
<ellipse cx="272.1" cy="75.9" rx="1.3" ry="0.5" fill="#d8d870" stroke="none" opacity="0.80" transform="rotate(-53 272.1 75.9)"/>
<ellipse cx="264.0" cy="60.7" rx="0.7" ry="0.9" fill="#88a040" stroke="none" opacity="0.83" transform="rotate(-17 264.0 60.7)"/>
<ellipse cx="265.8" cy="45.9" rx="0.7" ry="0.6" fill="#cfc640" stroke="none" opacity="0.61" transform="rotate(-16 265.8 45.9)"/>
<ellipse cx="265.2" cy="45.2" rx="1.3" ry="0.9" fill="#a0b048" stroke="none" opacity="0.79" transform="rotate(13 265.2 45.2)"/>
<ellipse cx="271.2" cy="62.6" rx="1.2" ry="0.8" fill="#c4c85a" stroke="none" opacity="0.58" transform="rotate(19 271.2 62.6)"/>
<ellipse cx="262.1" cy="66.0" rx="1.2" ry="0.7" fill="#b8c050" stroke="none" opacity="0.72" transform="rotate(-53 262.1 66.0)"/>
<ellipse cx="269.7" cy="79.4" rx="0.8" ry="0.6" fill="#d8d870" stroke="none" opacity="0.62" transform="rotate(51 269.7 79.4)"/>
<ellipse cx="276.8" cy="64.1" rx="1.2" ry="0.7" fill="#e0dc78" stroke="none" opacity="0.69" transform="rotate(34 276.8 64.1)"/>
<ellipse cx="257.4" cy="93.5" rx="1.0" ry="0.8" fill="#e0dc78" stroke="none" opacity="0.85" transform="rotate(47 257.4 93.5)"/>
<ellipse cx="263.9" cy="53.3" rx="1.1" ry="0.9" fill="#a0b048" stroke="none" opacity="0.83" transform="rotate(-57 263.9 53.3)"/>
<ellipse cx="266.1" cy="57.3" rx="1.4" ry="0.7" fill="#88a040" stroke="none" opacity="0.65" transform="rotate(53 266.1 57.3)"/>
<ellipse cx="272.2" cy="84.7" rx="0.7" ry="0.7" fill="#c4c85a" stroke="none" opacity="0.72" transform="rotate(-57 272.2 84.7)"/>
<ellipse cx="269.5" cy="31.9" rx="1.0" ry="1.0" fill="#b8c050" stroke="none" opacity="0.58" transform="rotate(-17 269.5 31.9)"/>
<ellipse cx="270.8" cy="25.9" rx="0.9" ry="0.7" fill="#88a040" stroke="none" opacity="0.73" transform="rotate(-28 270.8 25.9)"/>
<ellipse cx="268.9" cy="35.0" rx="0.6" ry="0.7" fill="#d8d870" stroke="none" opacity="0.84" transform="rotate(-44 268.9 35.0)"/>
<ellipse cx="272.5" cy="32.2" rx="1.2" ry="0.8" fill="#b8c050" stroke="none" opacity="0.60" transform="rotate(15 272.5 32.2)"/>
<ellipse cx="264.3" cy="38.1" rx="0.8" ry="0.7" fill="#b8c050" stroke="none" opacity="0.55" transform="rotate(-60 264.3 38.1)"/>
<ellipse cx="263.9" cy="41.0" rx="0.6" ry="0.7" fill="#d8d870" stroke="none" opacity="0.74" transform="rotate(-44 263.9 41.0)"/>
<ellipse cx="269.8" cy="36.3" rx="1.1" ry="1.0" fill="#88a040" stroke="none" opacity="0.56" transform="rotate(10 269.8 36.3)"/>
<ellipse cx="269.7" cy="38.5" rx="1.3" ry="0.6" fill="#c4c85a" stroke="none" opacity="0.70" transform="rotate(31 269.7 38.5)"/>
<ellipse cx="271.2" cy="42.0" rx="1.3" ry="0.9" fill="#b8c050" stroke="none" opacity="0.88" transform="rotate(26 271.2 42.0)"/>
<ellipse cx="273.4" cy="28.4" rx="1.3" ry="0.8" fill="#cfc640" stroke="none" opacity="0.87" transform="rotate(-20 273.4 28.4)"/>
<ellipse cx="274.7" cy="35.0" rx="0.9" ry="1.0" fill="#cfc640" stroke="none" opacity="0.81" transform="rotate(38 274.7 35.0)"/>
<ellipse cx="270.7" cy="41.8" rx="1.2" ry="0.7" fill="#e0dc78" stroke="none" opacity="0.89" transform="rotate(8 270.7 41.8)"/>
<ellipse cx="269.5" cy="35.9" rx="1.3" ry="0.9" fill="#88a040" stroke="none" opacity="0.71" transform="rotate(-52 269.5 35.9)"/>
<ellipse cx="271.3" cy="37.7" rx="1.0" ry="0.6" fill="#e0dc78" stroke="none" opacity="0.59" transform="rotate(10 271.3 37.7)"/>
<path d="M262.5,45.5 L266,47.5 L270,47" stroke="#f0d424" stroke-width="2.3"/>
</g>
<text x="173.00" y="12.00" font-size="8.6" font-weight="bold" stroke="#000" stroke-width="0.28" text-anchor="middle" fill="#000" >WT</text>
<text x="214.60" y="12.00" font-size="8.6" font-weight="bold" stroke="#000" stroke-width="0.28" text-anchor="middle" fill="#000" >L2</text>
<text x="243.40" y="12.00" font-size="8.6" font-weight="bold" stroke="#000" stroke-width="0.28" text-anchor="middle" fill="#000" >L3</text>
<text x="272.00" y="12.00" font-size="8.6" font-weight="bold" stroke="#000" stroke-width="0.28" text-anchor="middle" fill="#000" >L6</text>
<rect x="150" y="123.2" width="20.3" height="1.6" fill="#fff"/>
<text x="160.30" y="120.40" font-size="6.2" font-weight="bold" stroke="#e8e8e8" stroke-width="0.28" text-anchor="middle" fill="#e8e8e8" >5 cm</text>
<text x="2.60" y="11.00" font-size="14.2" font-weight="bold" stroke="#000" stroke-width="0.28" text-anchor="start" fill="#000" >a</text>
<text x="147.60" y="11.00" font-size="14.2" font-weight="bold" stroke="#000" stroke-width="0.28" text-anchor="start" fill="#000" >b</text>
<text x="301.00" y="11.40" font-size="14.2" font-weight="bold" stroke="#000" stroke-width="0.28" text-anchor="start" fill="#000" >c</text>
<text x="429.60" y="11.80" font-size="14.2" font-weight="bold" stroke="#000" stroke-width="0.28" text-anchor="start" fill="#000" >d</text>
<text x="2.80" y="150.30" font-size="14.2" font-weight="bold" stroke="#000" stroke-width="0.28" text-anchor="start" fill="#000" >e</text>
<text x="127.80" y="150.00" font-size="14.2" font-weight="bold" stroke="#000" stroke-width="0.28" text-anchor="start" fill="#000" >f</text>
<text x="251.30" y="149.40" font-size="14.2" font-weight="bold" stroke="#000" stroke-width="0.28" text-anchor="start" fill="#000" >g</text>
<text x="428.50" y="150.00" font-size="14.2" font-weight="bold" stroke="#000" stroke-width="0.28" text-anchor="start" fill="#000" >h</text>
<rect x="336.90" y="61.93" width="12.00" height="46.47" fill="#ea0008" stroke="#241a1a" stroke-width="0.85"/>
<rect x="358.50" y="38.29" width="12.00" height="70.11" fill="#00b04f" stroke="#241a1a" stroke-width="0.85"/>
<rect x="380.00" y="42.07" width="12.00" height="66.33" fill="#7a2fa3" stroke="#241a1a" stroke-width="0.85"/>
<rect x="402.20" y="31.34" width="12.00" height="77.06" fill="#ffc000" stroke="#241a1a" stroke-width="0.85"/>
<line x1="342.90" y1="58.55" x2="342.90" y2="65.30" stroke="#000" stroke-width="0.9"/>
<line x1="340.40" y1="58.55" x2="345.40" y2="58.55" stroke="#000" stroke-width="0.9"/>
<line x1="340.40" y1="65.30" x2="345.40" y2="65.30" stroke="#000" stroke-width="0.9"/>
<line x1="364.50" y1="33.92" x2="364.50" y2="42.66" stroke="#000" stroke-width="0.9"/>
<line x1="362.00" y1="33.92" x2="367.00" y2="33.92" stroke="#000" stroke-width="0.9"/>
<line x1="362.00" y1="42.66" x2="367.00" y2="42.66" stroke="#000" stroke-width="0.9"/>
<line x1="386.00" y1="39.59" x2="386.00" y2="44.55" stroke="#000" stroke-width="0.9"/>
<line x1="383.50" y1="39.59" x2="388.50" y2="39.59" stroke="#000" stroke-width="0.9"/>
<line x1="383.50" y1="44.55" x2="388.50" y2="44.55" stroke="#000" stroke-width="0.9"/>
<line x1="408.20" y1="29.36" x2="408.20" y2="33.33" stroke="#000" stroke-width="0.9"/>
<line x1="405.70" y1="29.36" x2="410.70" y2="29.36" stroke="#000" stroke-width="0.9"/>
<line x1="405.70" y1="33.33" x2="410.70" y2="33.33" stroke="#000" stroke-width="0.9"/>
<line x1="332.00" y1="8.60" x2="332.00" y2="111.40" stroke="#000" stroke-width="1.1"/>
<line x1="331.50" y1="108.40" x2="419.50" y2="108.40" stroke="#000" stroke-width="1.1"/>
<line x1="328.90" y1="108.40" x2="332.00" y2="108.40" stroke="#000" stroke-width="1.2"/>
<text transform="translate(322.20,111.19) scale(1.12,1)" font-size="8.1" font-weight="bold" stroke="#000" stroke-width="0.28" text-anchor="end" fill="#000" >0</text>
<line x1="328.90" y1="88.54" x2="332.00" y2="88.54" stroke="#000" stroke-width="1.2"/>
<text transform="translate(322.20,91.33) scale(1.12,1)" font-size="8.1" font-weight="bold" stroke="#000" stroke-width="0.28" text-anchor="end" fill="#000" >10</text>
<line x1="328.90" y1="68.68" x2="332.00" y2="68.68" stroke="#000" stroke-width="1.2"/>
<text transform="translate(322.20,71.47) scale(1.12,1)" font-size="8.1" font-weight="bold" stroke="#000" stroke-width="0.28" text-anchor="end" fill="#000" >20</text>
<line x1="328.90" y1="48.82" x2="332.00" y2="48.82" stroke="#000" stroke-width="1.2"/>
<text transform="translate(322.20,51.61) scale(1.12,1)" font-size="8.1" font-weight="bold" stroke="#000" stroke-width="0.28" text-anchor="end" fill="#000" >30</text>
<line x1="328.90" y1="28.96" x2="332.00" y2="28.96" stroke="#000" stroke-width="1.2"/>
<text transform="translate(322.20,31.75) scale(1.12,1)" font-size="8.1" font-weight="bold" stroke="#000" stroke-width="0.28" text-anchor="end" fill="#000" >40</text>
<line x1="328.90" y1="9.10" x2="332.00" y2="9.10" stroke="#000" stroke-width="1.2"/>
<text transform="translate(322.20,11.89) scale(1.12,1)" font-size="8.1" font-weight="bold" stroke="#000" stroke-width="0.28" text-anchor="end" fill="#000" >50</text>
<line x1="353.60" y1="108.40" x2="353.60" y2="111.40" stroke="#000" stroke-width="1.2"/>
<line x1="375.20" y1="108.40" x2="375.20" y2="111.40" stroke="#000" stroke-width="1.2"/>
<line x1="396.90" y1="108.40" x2="396.90" y2="111.40" stroke="#000" stroke-width="1.2"/>
<line x1="418.60" y1="108.40" x2="418.60" y2="111.40" stroke="#000" stroke-width="1.2"/>
<text x="342.90" y="55.20" font-size="8.6" stroke="#000" stroke-width="0.16" text-anchor="middle" fill="#000" >c</text>
<text x="364.50" y="31.00" font-size="8.6" stroke="#000" stroke-width="0.16" text-anchor="middle" fill="#000" >b</text>
<text x="386.00" y="37.20" font-size="8.6" stroke="#000" stroke-width="0.16" text-anchor="middle" fill="#000" >b</text>
<text x="408.20" y="25.70" font-size="8.6" stroke="#000" stroke-width="0.16" text-anchor="middle" fill="#000" >a</text>
<text x="342.60" y="122.60" font-size="8.8" font-weight="bold" stroke="#000" stroke-width="0.28" text-anchor="middle" fill="#000" >WT</text>
<text x="364.40" y="122.60" font-size="8.8" font-weight="bold" stroke="#000" stroke-width="0.28" text-anchor="middle" fill="#000" >L2</text>
<text x="386.20" y="122.60" font-size="8.8" font-weight="bold" stroke="#000" stroke-width="0.28" text-anchor="middle" fill="#000" >L3</text>
<text x="408.10" y="122.60" font-size="8.8" font-weight="bold" stroke="#000" stroke-width="0.28" text-anchor="middle" fill="#000" >L6</text>
<text transform="translate(307.90,56.00) rotate(-90) scale(1.0,1)" font-size="9.2" font-weight="bold" stroke="#000" stroke-width="0.25" text-anchor="middle">Root length (mm)</text>
<rect x="465.90" y="48.96" width="12.00" height="59.64" fill="#ea0008" stroke="#241a1a" stroke-width="0.85"/>
<rect x="487.50" y="44.59" width="12.00" height="64.01" fill="#00b04f" stroke="#241a1a" stroke-width="0.85"/>
<rect x="508.80" y="43.39" width="12.00" height="65.21" fill="#7a2fa3" stroke="#241a1a" stroke-width="0.85"/>
<rect x="530.40" y="37.63" width="12.00" height="70.97" fill="#ffc000" stroke="#241a1a" stroke-width="0.85"/>
<line x1="471.90" y1="45.58" x2="471.90" y2="52.34" stroke="#000" stroke-width="0.9"/>
<line x1="469.40" y1="45.58" x2="474.40" y2="45.58" stroke="#000" stroke-width="0.9"/>
<line x1="469.40" y1="52.34" x2="474.40" y2="52.34" stroke="#000" stroke-width="0.9"/>
<line x1="493.50" y1="40.01" x2="493.50" y2="49.16" stroke="#000" stroke-width="0.9"/>
<line x1="491.00" y1="40.01" x2="496.00" y2="40.01" stroke="#000" stroke-width="0.9"/>
<line x1="491.00" y1="49.16" x2="496.00" y2="49.16" stroke="#000" stroke-width="0.9"/>
<line x1="514.80" y1="40.01" x2="514.80" y2="46.77" stroke="#000" stroke-width="0.9"/>
<line x1="512.30" y1="40.01" x2="517.30" y2="40.01" stroke="#000" stroke-width="0.9"/>
<line x1="512.30" y1="46.77" x2="517.30" y2="46.77" stroke="#000" stroke-width="0.9"/>
<line x1="536.40" y1="32.06" x2="536.40" y2="43.19" stroke="#000" stroke-width="0.9"/>
<line x1="533.90" y1="32.06" x2="538.90" y2="32.06" stroke="#000" stroke-width="0.9"/>
<line x1="533.90" y1="43.19" x2="538.90" y2="43.19" stroke="#000" stroke-width="0.9"/>
<line x1="461.00" y1="8.70" x2="461.00" y2="111.60" stroke="#000" stroke-width="1.1"/>
<line x1="460.50" y1="108.60" x2="548.00" y2="108.60" stroke="#000" stroke-width="1.1"/>
<line x1="457.90" y1="108.60" x2="461.00" y2="108.60" stroke="#000" stroke-width="1.2"/>
<text transform="translate(451.30,111.39) scale(1.12,1)" font-size="8.1" font-weight="bold" stroke="#000" stroke-width="0.28" text-anchor="end" fill="#000" >0</text>
<line x1="457.90" y1="88.72" x2="461.00" y2="88.72" stroke="#000" stroke-width="1.2"/>
<text transform="translate(451.30,91.51) scale(1.12,1)" font-size="8.1" font-weight="bold" stroke="#000" stroke-width="0.28" text-anchor="end" fill="#000" >10</text>
<line x1="457.90" y1="68.84" x2="461.00" y2="68.84" stroke="#000" stroke-width="1.2"/>
<text transform="translate(451.30,71.63) scale(1.12,1)" font-size="8.1" font-weight="bold" stroke="#000" stroke-width="0.28" text-anchor="end" fill="#000" >20</text>
<line x1="457.90" y1="48.96" x2="461.00" y2="48.96" stroke="#000" stroke-width="1.2"/>
<text transform="translate(451.30,51.75) scale(1.12,1)" font-size="8.1" font-weight="bold" stroke="#000" stroke-width="0.28" text-anchor="end" fill="#000" >30</text>
<line x1="457.90" y1="29.08" x2="461.00" y2="29.08" stroke="#000" stroke-width="1.2"/>
<text transform="translate(451.30,31.87) scale(1.12,1)" font-size="8.1" font-weight="bold" stroke="#000" stroke-width="0.28" text-anchor="end" fill="#000" >40</text>
<line x1="457.90" y1="9.20" x2="461.00" y2="9.20" stroke="#000" stroke-width="1.2"/>
<text transform="translate(451.30,11.99) scale(1.12,1)" font-size="8.1" font-weight="bold" stroke="#000" stroke-width="0.28" text-anchor="end" fill="#000" >50</text>
<line x1="482.80" y1="108.60" x2="482.80" y2="111.60" stroke="#000" stroke-width="1.2"/>
<line x1="504.40" y1="108.60" x2="504.40" y2="111.60" stroke="#000" stroke-width="1.2"/>
<line x1="526.00" y1="108.60" x2="526.00" y2="111.60" stroke="#000" stroke-width="1.2"/>
<line x1="547.60" y1="108.60" x2="547.60" y2="111.60" stroke="#000" stroke-width="1.2"/>
<text x="471.90" y="41.30" font-size="8.6" stroke="#000" stroke-width="0.16" text-anchor="middle" fill="#000" >c</text>
<text x="493.50" y="35.40" font-size="8.6" stroke="#000" stroke-width="0.16" text-anchor="middle" fill="#000" >b</text>
<text x="514.80" y="36.80" font-size="8.6" stroke="#000" stroke-width="0.16" text-anchor="middle" fill="#000" >b</text>
<text x="536.40" y="28.70" font-size="8.6" stroke="#000" stroke-width="0.16" text-anchor="middle" fill="#000" >a</text>
<text x="472.00" y="122.60" font-size="8.8" font-weight="bold" stroke="#000" stroke-width="0.28" text-anchor="middle" fill="#000" >WT</text>
<text x="493.40" y="122.60" font-size="8.8" font-weight="bold" stroke="#000" stroke-width="0.28" text-anchor="middle" fill="#000" >L2</text>
<text x="514.80" y="122.60" font-size="8.8" font-weight="bold" stroke="#000" stroke-width="0.28" text-anchor="middle" fill="#000" >L3</text>
<text x="536.40" y="122.60" font-size="8.8" font-weight="bold" stroke="#000" stroke-width="0.28" text-anchor="middle" fill="#000" >L6</text>
<text transform="translate(435.80,57.30) rotate(-90) scale(1.0,1)" font-size="9.15" font-weight="bold" stroke="#000" stroke-width="0.25" text-anchor="middle">Plant height (cm)</text>
<rect x="39.30" y="179.73" width="12.00" height="67.67" fill="#ea0008" stroke="#241a1a" stroke-width="0.85"/>
<rect x="60.80" y="176.38" width="12.00" height="71.02" fill="#00b04f" stroke="#241a1a" stroke-width="0.85"/>
<rect x="82.00" y="180.20" width="12.00" height="67.20" fill="#7a2fa3" stroke="#241a1a" stroke-width="0.85"/>
<rect x="103.50" y="175.91" width="12.00" height="71.49" fill="#ffc000" stroke="#241a1a" stroke-width="0.85"/>
<line x1="45.30" y1="170.82" x2="45.30" y2="188.64" stroke="#000" stroke-width="0.9"/>
<line x1="42.80" y1="170.82" x2="47.80" y2="170.82" stroke="#000" stroke-width="0.9"/>
<line x1="42.80" y1="188.64" x2="47.80" y2="188.64" stroke="#000" stroke-width="0.9"/>
<line x1="66.80" y1="159.30" x2="66.80" y2="193.47" stroke="#000" stroke-width="0.9"/>
<line x1="64.30" y1="159.30" x2="69.30" y2="159.30" stroke="#000" stroke-width="0.9"/>
<line x1="64.30" y1="193.47" x2="69.30" y2="193.47" stroke="#000" stroke-width="0.9"/>
<line x1="88.00" y1="170.15" x2="88.00" y2="190.25" stroke="#000" stroke-width="0.9"/>
<line x1="85.50" y1="170.15" x2="90.50" y2="170.15" stroke="#000" stroke-width="0.9"/>
<line x1="85.50" y1="190.25" x2="90.50" y2="190.25" stroke="#000" stroke-width="0.9"/>
<line x1="109.50" y1="159.16" x2="109.50" y2="192.66" stroke="#000" stroke-width="0.9"/>
<line x1="107.00" y1="159.16" x2="112.00" y2="159.16" stroke="#000" stroke-width="0.9"/>
<line x1="107.00" y1="192.66" x2="112.00" y2="192.66" stroke="#000" stroke-width="0.9"/>
<line x1="34.20" y1="146.40" x2="34.20" y2="250.40" stroke="#000" stroke-width="1.1"/>
<line x1="33.70" y1="247.40" x2="120.50" y2="247.40" stroke="#000" stroke-width="1.1"/>
<line x1="31.10" y1="247.40" x2="34.20" y2="247.40" stroke="#000" stroke-width="1.2"/>
<text transform="translate(24.70,250.19) scale(1.12,1)" font-size="8.1" font-weight="bold" stroke="#000" stroke-width="0.28" text-anchor="end" fill="#000" >0</text>
<line x1="31.10" y1="213.90" x2="34.20" y2="213.90" stroke="#000" stroke-width="1.2"/>
<text transform="translate(24.70,216.69) scale(1.12,1)" font-size="8.1" font-weight="bold" stroke="#000" stroke-width="0.28" text-anchor="end" fill="#000" >5</text>
<line x1="31.10" y1="180.40" x2="34.20" y2="180.40" stroke="#000" stroke-width="1.2"/>
<text transform="translate(24.70,183.19) scale(1.12,1)" font-size="8.1" font-weight="bold" stroke="#000" stroke-width="0.28" text-anchor="end" fill="#000" >10</text>
<line x1="31.10" y1="146.90" x2="34.20" y2="146.90" stroke="#000" stroke-width="1.2"/>
<text transform="translate(24.70,149.69) scale(1.12,1)" font-size="8.1" font-weight="bold" stroke="#000" stroke-width="0.28" text-anchor="end" fill="#000" >15</text>
<line x1="56.00" y1="247.40" x2="56.00" y2="250.40" stroke="#000" stroke-width="1.2"/>
<line x1="77.60" y1="247.40" x2="77.60" y2="250.40" stroke="#000" stroke-width="1.2"/>
<line x1="99.00" y1="247.40" x2="99.00" y2="250.40" stroke="#000" stroke-width="1.2"/>
<line x1="120.20" y1="247.40" x2="120.20" y2="250.40" stroke="#000" stroke-width="1.2"/>
<text x="45.30" y="168.00" font-size="8.6" stroke="#000" stroke-width="0.16" text-anchor="middle" fill="#000" >a</text>
<text x="66.80" y="155.60" font-size="8.6" stroke="#000" stroke-width="0.16" text-anchor="middle" fill="#000" >a</text>
<text x="88.00" y="166.80" font-size="8.6" stroke="#000" stroke-width="0.16" text-anchor="middle" fill="#000" >a</text>
<text x="109.50" y="155.60" font-size="8.6" stroke="#000" stroke-width="0.16" text-anchor="middle" fill="#000" >a</text>
<text transform="translate(45.20,259.60) scale(1.21,1)" font-size="7.3" font-weight="bold" stroke="#000" stroke-width="0.28" text-anchor="middle" fill="#000" >WT</text>
<text transform="translate(67.00,259.60) scale(1.21,1)" font-size="7.3" font-weight="bold" stroke="#000" stroke-width="0.28" text-anchor="middle" fill="#000" >L2</text>
<text transform="translate(88.50,259.60) scale(1.21,1)" font-size="7.3" font-weight="bold" stroke="#000" stroke-width="0.28" text-anchor="middle" fill="#000" >L3</text>
<text transform="translate(109.70,259.60) scale(1.21,1)" font-size="7.3" font-weight="bold" stroke="#000" stroke-width="0.28" text-anchor="middle" fill="#000" >L6</text>
<text transform="translate(11.30,203.00) rotate(-90) scale(1.0,1)" font-size="9.4" font-weight="bold" stroke="#000" stroke-width="0.25" text-anchor="middle">Rosette leaf number</text>
<rect x="163.70" y="182.08" width="12.00" height="65.32" fill="#ea0008" stroke="#241a1a" stroke-width="0.85"/>
<rect x="185.40" y="174.04" width="12.00" height="73.36" fill="#00b04f" stroke="#241a1a" stroke-width="0.85"/>
<rect x="206.50" y="175.24" width="12.00" height="72.16" fill="#7a2fa3" stroke="#241a1a" stroke-width="0.85"/>
<rect x="228.00" y="170.02" width="12.00" height="77.38" fill="#ffc000" stroke="#241a1a" stroke-width="0.85"/>
<line x1="169.70" y1="178.46" x2="169.70" y2="185.69" stroke="#000" stroke-width="0.9"/>
<line x1="167.20" y1="178.46" x2="172.20" y2="178.46" stroke="#000" stroke-width="0.9"/>
<line x1="167.20" y1="185.69" x2="172.20" y2="185.69" stroke="#000" stroke-width="0.9"/>
<line x1="191.40" y1="169.51" x2="191.40" y2="178.56" stroke="#000" stroke-width="0.9"/>
<line x1="188.90" y1="169.51" x2="193.90" y2="169.51" stroke="#000" stroke-width="0.9"/>
<line x1="188.90" y1="178.56" x2="193.90" y2="178.56" stroke="#000" stroke-width="0.9"/>
<line x1="212.50" y1="170.92" x2="212.50" y2="179.56" stroke="#000" stroke-width="0.9"/>
<line x1="210.00" y1="170.92" x2="215.00" y2="170.92" stroke="#000" stroke-width="0.9"/>
<line x1="210.00" y1="179.56" x2="215.00" y2="179.56" stroke="#000" stroke-width="0.9"/>
<line x1="234.00" y1="166.50" x2="234.00" y2="173.53" stroke="#000" stroke-width="0.9"/>
<line x1="231.50" y1="166.50" x2="236.50" y2="166.50" stroke="#000" stroke-width="0.9"/>
<line x1="231.50" y1="173.53" x2="236.50" y2="173.53" stroke="#000" stroke-width="0.9"/>
<line x1="159.00" y1="146.40" x2="159.00" y2="250.40" stroke="#000" stroke-width="1.1"/>
<line x1="158.50" y1="247.40" x2="245.50" y2="247.40" stroke="#000" stroke-width="1.1"/>
<line x1="155.90" y1="247.40" x2="159.00" y2="247.40" stroke="#000" stroke-width="1.2"/>
<text transform="translate(149.20,250.19) scale(1.12,1)" font-size="8.1" font-weight="bold" stroke="#000" stroke-width="0.28" text-anchor="end" fill="#000" >0</text>
<line x1="155.90" y1="227.30" x2="159.00" y2="227.30" stroke="#000" stroke-width="1.2"/>
<text transform="translate(149.20,230.09) scale(1.12,1)" font-size="8.1" font-weight="bold" stroke="#000" stroke-width="0.28" text-anchor="end" fill="#000" >20</text>
<line x1="155.90" y1="207.20" x2="159.00" y2="207.20" stroke="#000" stroke-width="1.2"/>
<text transform="translate(149.20,209.99) scale(1.12,1)" font-size="8.1" font-weight="bold" stroke="#000" stroke-width="0.28" text-anchor="end" fill="#000" >40</text>
<line x1="155.90" y1="187.10" x2="159.00" y2="187.10" stroke="#000" stroke-width="1.2"/>
<text transform="translate(149.20,189.89) scale(1.12,1)" font-size="8.1" font-weight="bold" stroke="#000" stroke-width="0.28" text-anchor="end" fill="#000" >60</text>
<line x1="155.90" y1="167.00" x2="159.00" y2="167.00" stroke="#000" stroke-width="1.2"/>
<text transform="translate(149.20,169.79) scale(1.12,1)" font-size="8.1" font-weight="bold" stroke="#000" stroke-width="0.28" text-anchor="end" fill="#000" >80</text>
<line x1="155.90" y1="146.90" x2="159.00" y2="146.90" stroke="#000" stroke-width="1.2"/>
<text transform="translate(149.20,149.69) scale(1.12,1)" font-size="8.1" font-weight="bold" stroke="#000" stroke-width="0.28" text-anchor="end" fill="#000" >100</text>
<line x1="181.00" y1="247.40" x2="181.00" y2="250.40" stroke="#000" stroke-width="1.2"/>
<line x1="202.60" y1="247.40" x2="202.60" y2="250.40" stroke="#000" stroke-width="1.2"/>
<line x1="224.00" y1="247.40" x2="224.00" y2="250.40" stroke="#000" stroke-width="1.2"/>
<line x1="245.20" y1="247.40" x2="245.20" y2="250.40" stroke="#000" stroke-width="1.2"/>
<text x="169.70" y="176.00" font-size="8.6" stroke="#000" stroke-width="0.16" text-anchor="middle" fill="#000" >c</text>
<text x="191.40" y="166.00" font-size="8.6" stroke="#000" stroke-width="0.16" text-anchor="middle" fill="#000" >b</text>
<text x="212.50" y="168.60" font-size="8.6" stroke="#000" stroke-width="0.16" text-anchor="middle" fill="#000" >b</text>
<text x="234.00" y="163.80" font-size="8.6" stroke="#000" stroke-width="0.16" text-anchor="middle" fill="#000" >a</text>
<text transform="translate(170.20,259.60) scale(1.21,1)" font-size="7.3" font-weight="bold" stroke="#000" stroke-width="0.28" text-anchor="middle" fill="#000" >WT</text>
<text transform="translate(192.00,259.60) scale(1.21,1)" font-size="7.3" font-weight="bold" stroke="#000" stroke-width="0.28" text-anchor="middle" fill="#000" >L2</text>
<text transform="translate(213.50,259.60) scale(1.21,1)" font-size="7.3" font-weight="bold" stroke="#000" stroke-width="0.28" text-anchor="middle" fill="#000" >L3</text>
<text transform="translate(234.70,259.60) scale(1.21,1)" font-size="7.3" font-weight="bold" stroke="#000" stroke-width="0.28" text-anchor="middle" fill="#000" >L6</text>
<text transform="translate(136.00,203.00) rotate(-90) scale(1.0,1)" font-size="9.1" font-weight="bold" stroke="#000" stroke-width="0.25" text-anchor="middle">Leaf area (mm<tspan dy="-3" font-size="6">2</tspan><tspan dy="3">)</tspan></text>
<rect x="467.10" y="229.31" width="12.00" height="18.09" fill="#ea0008" stroke="#241a1a" stroke-width="0.85"/>
<rect x="488.00" y="171.50" width="12.00" height="75.90" fill="#00b04f" stroke="#241a1a" stroke-width="0.85"/>
<rect x="508.90" y="179.70" width="12.00" height="67.70" fill="#7a2fa3" stroke="#241a1a" stroke-width="0.85"/>
<rect x="529.70" y="178.90" width="12.00" height="68.50" fill="#ffc000" stroke="#241a1a" stroke-width="0.85"/>
<line x1="473.10" y1="228.10" x2="473.10" y2="230.52" stroke="#000" stroke-width="0.9"/>
<line x1="470.60" y1="228.10" x2="475.60" y2="228.10" stroke="#000" stroke-width="0.9"/>
<line x1="470.60" y1="230.52" x2="475.60" y2="230.52" stroke="#000" stroke-width="0.9"/>
<line x1="494.00" y1="171.02" x2="494.00" y2="171.98" stroke="#000" stroke-width="0.9"/>
<line x1="491.50" y1="171.02" x2="496.50" y2="171.02" stroke="#000" stroke-width="0.9"/>
<line x1="491.50" y1="171.98" x2="496.50" y2="171.98" stroke="#000" stroke-width="0.9"/>
<line x1="514.90" y1="178.90" x2="514.90" y2="180.51" stroke="#000" stroke-width="0.9"/>
<line x1="512.40" y1="178.90" x2="517.40" y2="178.90" stroke="#000" stroke-width="0.9"/>
<line x1="512.40" y1="180.51" x2="517.40" y2="180.51" stroke="#000" stroke-width="0.9"/>
<line x1="535.70" y1="175.44" x2="535.70" y2="182.36" stroke="#000" stroke-width="0.9"/>
<line x1="533.20" y1="175.44" x2="538.20" y2="175.44" stroke="#000" stroke-width="0.9"/>
<line x1="533.20" y1="182.36" x2="538.20" y2="182.36" stroke="#000" stroke-width="0.9"/>
<line x1="462.70" y1="146.40" x2="462.70" y2="250.40" stroke="#000" stroke-width="1.1"/>
<line x1="462.20" y1="247.40" x2="548.30" y2="247.40" stroke="#000" stroke-width="1.1"/>
<line x1="459.60" y1="247.40" x2="462.70" y2="247.40" stroke="#000" stroke-width="1.2"/>
<text transform="translate(455.30,250.19) scale(1.12,1)" font-size="8.1" font-weight="bold" stroke="#000" stroke-width="0.28" text-anchor="end" fill="#000" >0</text>
<line x1="459.60" y1="227.30" x2="462.70" y2="227.30" stroke="#000" stroke-width="1.2"/>
<text transform="translate(455.30,230.09) scale(1.12,1)" font-size="8.1" font-weight="bold" stroke="#000" stroke-width="0.28" text-anchor="end" fill="#000" >50</text>
<line x1="459.60" y1="207.20" x2="462.70" y2="207.20" stroke="#000" stroke-width="1.2"/>
<text transform="translate(455.30,209.99) scale(1.12,1)" font-size="8.1" font-weight="bold" stroke="#000" stroke-width="0.28" text-anchor="end" fill="#000" >100</text>
<line x1="459.60" y1="187.10" x2="462.70" y2="187.10" stroke="#000" stroke-width="1.2"/>
<text transform="translate(455.30,189.89) scale(1.12,1)" font-size="8.1" font-weight="bold" stroke="#000" stroke-width="0.28" text-anchor="end" fill="#000" >150</text>
<line x1="459.60" y1="167.00" x2="462.70" y2="167.00" stroke="#000" stroke-width="1.2"/>
<text transform="translate(455.30,169.79) scale(1.12,1)" font-size="8.1" font-weight="bold" stroke="#000" stroke-width="0.28" text-anchor="end" fill="#000" >200</text>
<line x1="459.60" y1="146.90" x2="462.70" y2="146.90" stroke="#000" stroke-width="1.2"/>
<text transform="translate(455.30,149.69) scale(1.12,1)" font-size="8.1" font-weight="bold" stroke="#000" stroke-width="0.28" text-anchor="end" fill="#000" >250</text>
<line x1="483.30" y1="247.40" x2="483.30" y2="250.40" stroke="#000" stroke-width="1.2"/>
<line x1="504.90" y1="247.40" x2="504.90" y2="250.40" stroke="#000" stroke-width="1.2"/>
<line x1="526.20" y1="247.40" x2="526.20" y2="250.40" stroke="#000" stroke-width="1.2"/>
<line x1="547.80" y1="247.40" x2="547.80" y2="250.40" stroke="#000" stroke-width="1.2"/>
<text x="473.10" y="223.00" font-size="8.6" stroke="#000" stroke-width="0.16" text-anchor="middle" fill="#000" >c</text>
<text x="494.00" y="165.00" font-size="8.6" stroke="#000" stroke-width="0.16" text-anchor="middle" fill="#000" >a</text>
<text x="514.90" y="174.00" font-size="8.6" stroke="#000" stroke-width="0.16" text-anchor="middle" fill="#000" >b</text>
<text x="535.70" y="171.00" font-size="8.6" stroke="#000" stroke-width="0.16" text-anchor="middle" fill="#000" >b</text>
<text transform="translate(473.50,259.60) scale(1.21,1)" font-size="7.3" font-weight="bold" stroke="#000" stroke-width="0.28" text-anchor="middle" fill="#000" >WT</text>
<text transform="translate(493.90,259.60) scale(1.21,1)" font-size="7.3" font-weight="bold" stroke="#000" stroke-width="0.28" text-anchor="middle" fill="#000" >L2</text>
<text transform="translate(514.60,259.60) scale(1.21,1)" font-size="7.3" font-weight="bold" stroke="#000" stroke-width="0.28" text-anchor="middle" fill="#000" >L3</text>
<text transform="translate(535.90,259.60) scale(1.21,1)" font-size="7.3" font-weight="bold" stroke="#000" stroke-width="0.28" text-anchor="middle" fill="#000" >L6</text>
<text transform="translate(437.00,202.00) rotate(-90) scale(1.0,1)" font-size="9.25" font-weight="bold" stroke="#000" stroke-width="0.25" text-anchor="middle">DXS activity (U/mg)</text>
<rect x="284.30" y="204.47" width="6.60" height="42.83" fill="#ea0008" stroke="#241a1a" stroke-width="0.85"/>
<line x1="287.60" y1="203.97" x2="287.60" y2="204.87" stroke="#000" stroke-width="0.8"/>
<line x1="285.35" y1="203.97" x2="289.85" y2="203.97" stroke="#000" stroke-width="0.8"/>
<line x1="285.35" y1="204.87" x2="289.85" y2="204.87" stroke="#000" stroke-width="0.8"/>
<text x="287.60" y="198.17" font-size="8.6" stroke="#000" stroke-width="0.16" text-anchor="middle" fill="#000" >b</text>
<rect x="293.05" y="198.63" width="6.60" height="48.67" fill="#00b04f" stroke="#241a1a" stroke-width="0.85"/>
<line x1="296.35" y1="198.13" x2="296.35" y2="199.03" stroke="#000" stroke-width="0.8"/>
<line x1="294.10" y1="198.13" x2="298.60" y2="198.13" stroke="#000" stroke-width="0.8"/>
<line x1="294.10" y1="199.03" x2="298.60" y2="199.03" stroke="#000" stroke-width="0.8"/>
<text x="296.35" y="192.33" font-size="8.6" stroke="#000" stroke-width="0.16" text-anchor="middle" fill="#000" >a</text>
<rect x="301.80" y="199.30" width="6.60" height="48.00" fill="#7a2fa3" stroke="#241a1a" stroke-width="0.85"/>
<line x1="305.10" y1="198.80" x2="305.10" y2="199.70" stroke="#000" stroke-width="0.8"/>
<line x1="302.85" y1="198.80" x2="307.35" y2="198.80" stroke="#000" stroke-width="0.8"/>
<line x1="302.85" y1="199.70" x2="307.35" y2="199.70" stroke="#000" stroke-width="0.8"/>
<text x="305.10" y="193.00" font-size="8.6" stroke="#000" stroke-width="0.16" text-anchor="middle" fill="#000" >a</text>
<rect x="310.55" y="199.30" width="6.60" height="48.00" fill="#ffc000" stroke="#241a1a" stroke-width="0.85"/>
<line x1="313.85" y1="198.80" x2="313.85" y2="199.70" stroke="#000" stroke-width="0.8"/>
<line x1="311.60" y1="198.80" x2="316.10" y2="198.80" stroke="#000" stroke-width="0.8"/>
<line x1="311.60" y1="199.70" x2="316.10" y2="199.70" stroke="#000" stroke-width="0.8"/>
<text x="313.85" y="193.00" font-size="8.6" stroke="#000" stroke-width="0.16" text-anchor="middle" fill="#000" >a</text>
<rect x="331.40" y="223.43" width="6.60" height="23.87" fill="#ea0008" stroke="#241a1a" stroke-width="0.85"/>
<line x1="334.70" y1="222.93" x2="334.70" y2="223.83" stroke="#000" stroke-width="0.8"/>
<line x1="332.45" y1="222.93" x2="336.95" y2="222.93" stroke="#000" stroke-width="0.8"/>
<line x1="332.45" y1="223.83" x2="336.95" y2="223.83" stroke="#000" stroke-width="0.8"/>
<text x="334.70" y="217.13" font-size="8.6" stroke="#000" stroke-width="0.16" text-anchor="middle" fill="#000" >c</text>
<rect x="340.15" y="220.30" width="6.60" height="27.00" fill="#00b04f" stroke="#241a1a" stroke-width="0.85"/>
<line x1="343.45" y1="219.80" x2="343.45" y2="220.70" stroke="#000" stroke-width="0.8"/>
<line x1="341.20" y1="219.80" x2="345.70" y2="219.80" stroke="#000" stroke-width="0.8"/>
<line x1="341.20" y1="220.70" x2="345.70" y2="220.70" stroke="#000" stroke-width="0.8"/>
<text x="343.45" y="214.00" font-size="8.6" stroke="#000" stroke-width="0.16" text-anchor="middle" fill="#000" >b</text>
<rect x="348.90" y="219.97" width="6.60" height="27.33" fill="#7a2fa3" stroke="#241a1a" stroke-width="0.85"/>
<line x1="352.20" y1="219.47" x2="352.20" y2="220.37" stroke="#000" stroke-width="0.8"/>
<line x1="349.95" y1="219.47" x2="354.45" y2="219.47" stroke="#000" stroke-width="0.8"/>
<line x1="349.95" y1="220.37" x2="354.45" y2="220.37" stroke="#000" stroke-width="0.8"/>
<text x="352.20" y="213.67" font-size="8.6" stroke="#000" stroke-width="0.16" text-anchor="middle" fill="#000" >b</text>
<rect x="357.65" y="213.30" width="6.60" height="34.00" fill="#ffc000" stroke="#241a1a" stroke-width="0.85"/>
<line x1="360.95" y1="212.80" x2="360.95" y2="213.70" stroke="#000" stroke-width="0.8"/>
<line x1="358.70" y1="212.80" x2="363.20" y2="212.80" stroke="#000" stroke-width="0.8"/>
<line x1="358.70" y1="213.70" x2="363.20" y2="213.70" stroke="#000" stroke-width="0.8"/>
<text x="360.95" y="207.00" font-size="8.6" stroke="#000" stroke-width="0.16" text-anchor="middle" fill="#000" >a</text>
<rect x="378.80" y="180.63" width="6.60" height="66.67" fill="#ea0008" stroke="#241a1a" stroke-width="0.85"/>
<line x1="382.10" y1="180.13" x2="382.10" y2="181.03" stroke="#000" stroke-width="0.8"/>
<line x1="379.85" y1="180.13" x2="384.35" y2="180.13" stroke="#000" stroke-width="0.8"/>
<line x1="379.85" y1="181.03" x2="384.35" y2="181.03" stroke="#000" stroke-width="0.8"/>
<text x="382.10" y="174.33" font-size="8.6" stroke="#000" stroke-width="0.16" text-anchor="middle" fill="#000" >c</text>
<rect x="387.55" y="171.30" width="6.60" height="76.00" fill="#00b04f" stroke="#241a1a" stroke-width="0.85"/>
<line x1="390.85" y1="170.80" x2="390.85" y2="171.70" stroke="#000" stroke-width="0.8"/>
<line x1="388.60" y1="170.80" x2="393.10" y2="170.80" stroke="#000" stroke-width="0.8"/>
<line x1="388.60" y1="171.70" x2="393.10" y2="171.70" stroke="#000" stroke-width="0.8"/>
<text x="390.85" y="165.00" font-size="8.6" stroke="#000" stroke-width="0.16" text-anchor="middle" fill="#000" >b</text>
<rect x="396.30" y="171.63" width="6.60" height="75.67" fill="#7a2fa3" stroke="#241a1a" stroke-width="0.85"/>
<line x1="399.60" y1="171.13" x2="399.60" y2="172.03" stroke="#000" stroke-width="0.8"/>
<line x1="397.35" y1="171.13" x2="401.85" y2="171.13" stroke="#000" stroke-width="0.8"/>
<line x1="397.35" y1="172.03" x2="401.85" y2="172.03" stroke="#000" stroke-width="0.8"/>
<text x="399.60" y="165.33" font-size="8.6" stroke="#000" stroke-width="0.16" text-anchor="middle" fill="#000" >b</text>
<rect x="405.05" y="165.13" width="6.60" height="82.17" fill="#ffc000" stroke="#241a1a" stroke-width="0.85"/>
<line x1="408.35" y1="164.63" x2="408.35" y2="165.53" stroke="#000" stroke-width="0.8"/>
<line x1="406.10" y1="164.63" x2="410.60" y2="164.63" stroke="#000" stroke-width="0.8"/>
<line x1="406.10" y1="165.53" x2="410.60" y2="165.53" stroke="#000" stroke-width="0.8"/>
<text x="408.35" y="158.83" font-size="8.6" stroke="#000" stroke-width="0.16" text-anchor="middle" fill="#000" >a</text>
<line x1="276.70" y1="146.80" x2="276.70" y2="250.30" stroke="#000" stroke-width="1.1"/>
<line x1="276.20" y1="247.30" x2="419.50" y2="247.30" stroke="#000" stroke-width="1.1"/>
<line x1="273.60" y1="247.30" x2="276.70" y2="247.30" stroke="#000" stroke-width="1.2"/>
<text transform="translate(266.60,250.20) scale(1.12,1)" font-size="8.1" font-weight="bold" stroke="#000" stroke-width="0.28" text-anchor="end" fill="#000" >0</text>
<line x1="273.60" y1="213.97" x2="276.70" y2="213.97" stroke="#000" stroke-width="1.2"/>
<text transform="translate(266.60,216.87) scale(1.12,1)" font-size="8.1" font-weight="bold" stroke="#000" stroke-width="0.28" text-anchor="end" fill="#000" >1</text>
<line x1="273.60" y1="180.63" x2="276.70" y2="180.63" stroke="#000" stroke-width="1.2"/>
<text transform="translate(266.60,183.53) scale(1.12,1)" font-size="8.1" font-weight="bold" stroke="#000" stroke-width="0.28" text-anchor="end" fill="#000" >2</text>
<line x1="273.60" y1="147.30" x2="276.70" y2="147.30" stroke="#000" stroke-width="1.2"/>
<text transform="translate(266.60,150.20) scale(1.12,1)" font-size="8.1" font-weight="bold" stroke="#000" stroke-width="0.28" text-anchor="end" fill="#000" >3</text>
<line x1="324.00" y1="247.30" x2="324.00" y2="250.30" stroke="#000" stroke-width="1.2"/>
<line x1="371.50" y1="247.30" x2="371.50" y2="250.30" stroke="#000" stroke-width="1.2"/>
<line x1="419.00" y1="247.30" x2="419.00" y2="250.30" stroke="#000" stroke-width="1.2"/>
<text transform="translate(300.40,260.30) scale(1.28,1)" font-size="7.0" font-weight="bold" stroke="#000" stroke-width="0.28" text-anchor="middle" fill="#000" >Chl a</text>
<text transform="translate(347.90,260.30) scale(1.28,1)" font-size="7.0" font-weight="bold" stroke="#000" stroke-width="0.28" text-anchor="middle" fill="#000" >Chl b</text>
<text transform="translate(395.60,260.30) scale(1.28,1)" font-size="7.0" font-weight="bold" stroke="#000" stroke-width="0.28" text-anchor="middle" fill="#000" >Total</text>
<text transform="translate(256.90,202.00) rotate(-90) scale(1.0,1)" font-size="9.5" font-weight="bold" stroke="#000" stroke-width="0.25" text-anchor="middle">Content (mg/g)</text>
<rect x="289.6" y="149.6" width="4.6" height="4.4" fill="#ea0008" stroke="#241a1a" stroke-width="0.6"/>
<text x="296.20" y="154.50" font-size="9" font-weight="bold" stroke="#000" stroke-width="0.28" text-anchor="start" fill="#000" >WT</text>
<rect x="317.6" y="149.6" width="4.6" height="4.4" fill="#00b04f" stroke="#241a1a" stroke-width="0.6"/>
<text x="323.60" y="154.50" font-size="9" font-weight="bold" stroke="#000" stroke-width="0.28" text-anchor="start" fill="#000" >L2</text>
<rect x="339.8" y="149.6" width="4.6" height="4.4" fill="#7a2fa3" stroke="#241a1a" stroke-width="0.6"/>
<text x="346.00" y="154.50" font-size="9" font-weight="bold" stroke="#000" stroke-width="0.28" text-anchor="start" fill="#000" >L3</text>
<rect x="362.8" y="149.6" width="4.6" height="4.4" fill="#ffc000" stroke="#241a1a" stroke-width="0.6"/>
<text x="369.00" y="154.50" font-size="9" font-weight="bold" stroke="#000" stroke-width="0.28" text-anchor="start" fill="#000" >L6</text>
</g>
</svg>
</body></html>
